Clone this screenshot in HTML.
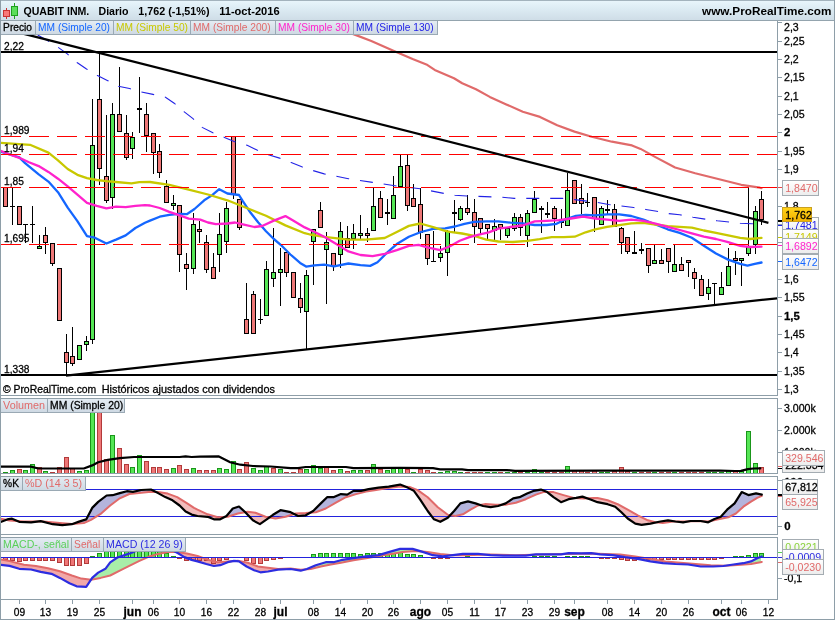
<!DOCTYPE html>
<html lang="es"><head><meta charset="utf-8"><title>QUABIT INM. Diario</title>
<style>html,body{margin:0;padding:0;background:#fff}svg{display:block}</style></head>
<body>
<svg width="835" height="620" viewBox="0 0 835 620" font-family='"Liberation Sans", Arial, Helvetica, sans-serif' font-size="10.6px">
<defs>
<linearGradient id="hdr" x1="0" y1="0" x2="0" y2="1"><stop offset="0" stop-color="#e9f6fc"/><stop offset="0.45" stop-color="#dcebf3"/><stop offset="1" stop-color="#cfdde7"/></linearGradient>
<linearGradient id="lbl" x1="0" y1="0" x2="0" y2="1"><stop offset="0" stop-color="#e4ecf3"/><stop offset="1" stop-color="#cdd8e2"/></linearGradient>
<linearGradient id="box" x1="0" y1="0" x2="0" y2="1"><stop offset="0" stop-color="#ffffff"/><stop offset="1" stop-color="#ececec"/></linearGradient>
<linearGradient id="gold" x1="0" y1="0" x2="0" y2="1"><stop offset="0" stop-color="#ffd21a"/><stop offset="1" stop-color="#f2b200"/></linearGradient>
<clipPath id="cmain"><rect x="1" y="21" width="776" height="374"/></clipPath>
<clipPath id="cvol"><rect x="1" y="399" width="776" height="74"/></clipPath>
<clipPath id="csto"><rect x="1" y="477" width="776" height="57"/></clipPath>
<clipPath id="cmac"><rect x="1" y="538" width="776" height="61"/></clipPath>
</defs>
<rect width="835" height="620" fill="#fff"/>
<rect x="0" y="0" width="835" height="20" fill="url(#hdr)"/>
<rect x="0" y="0" width="835" height="1" fill="#a3b3bd"/>
<rect x="0" y="20" width="835" height="1" fill="#94a4ae"/>
<g clip-path="url(#cmain)">
<g shape-rendering="crispEdges">
<rect x="5" y="187.4" width="1" height="19.3" fill="#000"/><rect x="3" y="187.4" width="5" height="19.3" fill="#000"/><rect x="4" y="188.4" width="3" height="17.3" fill="#ee7777"/>
<rect x="12" y="187.4" width="1" height="37.1" fill="#000"/><rect x="10" y="205.8" width="5" height="1.4" fill="#000"/>
<rect x="19" y="206.3" width="1" height="18.2" fill="#000"/><rect x="17" y="206.3" width="5" height="18.2" fill="#000"/><rect x="18" y="207.3" width="3" height="16.2" fill="#ee7777"/>
<rect x="25" y="224.5" width="1" height="18.0" fill="#000"/><rect x="23" y="224.0" width="5" height="1.4" fill="#000"/>
<rect x="32" y="206.3" width="1" height="36.2" fill="#000"/><rect x="30" y="224.0" width="5" height="1.4" fill="#000"/>
<rect x="39" y="235.2" width="1" height="14.1" fill="#000"/><rect x="37" y="246.0" width="5" height="3.3" fill="#000"/><rect x="38" y="247.0" width="3" height="1.3" fill="#55e655"/>
<rect x="45" y="226.5" width="1" height="27.0" fill="#000"/><rect x="43" y="235.2" width="5" height="7.3" fill="#000"/><rect x="44" y="236.2" width="3" height="5.3" fill="#ee7777"/>
<rect x="52" y="243.4" width="1" height="22.1" fill="#000"/><rect x="50" y="243.4" width="5" height="21.0" fill="#000"/><rect x="51" y="244.4" width="3" height="19.0" fill="#ee7777"/>
<rect x="59" y="268.2" width="1" height="53.1" fill="#000"/><rect x="57" y="268.2" width="5" height="53.1" fill="#000"/><rect x="58" y="269.2" width="3" height="51.1" fill="#ee7777"/>
<rect x="66" y="334.4" width="1" height="40.6" fill="#000"/><rect x="64" y="352.2" width="5" height="10.4" fill="#000"/><rect x="65" y="353.2" width="3" height="8.4" fill="#ee7777"/>
<rect x="72" y="326.9" width="1" height="39.5" fill="#000"/><rect x="70" y="356.3" width="5" height="7.2" fill="#000"/><rect x="71" y="357.3" width="3" height="5.2" fill="#ee7777"/>
<rect x="79" y="345.4" width="1" height="14.9" fill="#000"/><rect x="77" y="345.4" width="5" height="14.9" fill="#000"/><rect x="78" y="346.4" width="3" height="12.9" fill="#55e655"/>
<rect x="86" y="335.9" width="1" height="15.4" fill="#000"/><rect x="84" y="340.5" width="5" height="4.9" fill="#000"/><rect x="85" y="341.5" width="3" height="2.9" fill="#55e655"/>
<rect x="92" y="99.0" width="1" height="244.8" fill="#000"/><rect x="90" y="145.4" width="5" height="194.6" fill="#000"/><rect x="91" y="146.4" width="3" height="192.6" fill="#55e655"/>
<rect x="99" y="52.0" width="1" height="132.9" fill="#000"/><rect x="97" y="99.0" width="5" height="70.4" fill="#000"/><rect x="98" y="100.0" width="3" height="68.4" fill="#ee7777"/>
<rect x="106" y="115.4" width="1" height="87.1" fill="#000"/><rect x="104" y="176.4" width="5" height="24.1" fill="#000"/><rect x="105" y="177.4" width="3" height="22.1" fill="#ee7777"/>
<rect x="112" y="102.9" width="1" height="105.8" fill="#000"/><rect x="110" y="114.1" width="5" height="83.9" fill="#000"/><rect x="111" y="115.1" width="3" height="81.9" fill="#55e655"/>
<rect x="119" y="67.0" width="1" height="65.3" fill="#000"/><rect x="117" y="114.1" width="5" height="18.2" fill="#000"/><rect x="118" y="115.1" width="3" height="16.2" fill="#ee7777"/>
<rect x="126" y="115.0" width="1" height="44.7" fill="#000"/><rect x="124" y="133.4" width="5" height="25.0" fill="#000"/><rect x="125" y="134.4" width="3" height="23.0" fill="#ee7777"/>
<rect x="132" y="131.9" width="1" height="27.4" fill="#000"/><rect x="130" y="137.3" width="5" height="11.9" fill="#000"/><rect x="131" y="138.3" width="3" height="9.9" fill="#55e655"/>
<rect x="139" y="76.8" width="1" height="55.7" fill="#000"/><rect x="137" y="108.2" width="5" height="1.4" fill="#000"/>
<rect x="146" y="102.9" width="1" height="48.6" fill="#000"/><rect x="144" y="114.1" width="5" height="22.0" fill="#000"/><rect x="145" y="115.1" width="3" height="20.0" fill="#ee7777"/>
<rect x="153" y="133.3" width="1" height="40.2" fill="#000"/><rect x="151" y="133.3" width="5" height="20.0" fill="#000"/><rect x="152" y="134.3" width="3" height="18.0" fill="#ee7777"/>
<rect x="159" y="144.2" width="1" height="33.3" fill="#000"/><rect x="157" y="151.3" width="5" height="22.0" fill="#000"/><rect x="158" y="152.3" width="3" height="20.0" fill="#ee7777"/>
<rect x="166" y="180.0" width="1" height="22.6" fill="#000"/><rect x="164" y="185.8" width="5" height="16.8" fill="#000"/><rect x="165" y="186.8" width="3" height="14.8" fill="#ee7777"/>
<rect x="173" y="195.0" width="1" height="14.6" fill="#000"/><rect x="171" y="202.6" width="5" height="3.5" fill="#000"/><rect x="172" y="203.6" width="3" height="1.5" fill="#55e655"/>
<rect x="179" y="205.1" width="1" height="66.8" fill="#000"/><rect x="177" y="205.1" width="5" height="49.4" fill="#000"/><rect x="178" y="206.1" width="3" height="47.4" fill="#ee7777"/>
<rect x="186" y="253.3" width="1" height="36.3" fill="#000"/><rect x="184" y="264.1" width="5" height="4.4" fill="#000"/><rect x="185" y="265.1" width="3" height="2.4" fill="#ee7777"/>
<rect x="193" y="213.0" width="1" height="60.8" fill="#000"/><rect x="191" y="224.3" width="5" height="44.2" fill="#000"/><rect x="192" y="225.3" width="3" height="42.2" fill="#55e655"/>
<rect x="199" y="220.6" width="1" height="22.5" fill="#000"/><rect x="197" y="229.4" width="5" height="3.0" fill="#000"/><rect x="198" y="230.4" width="3" height="1.0" fill="#ee7777"/>
<rect x="206" y="235.1" width="1" height="37.5" fill="#000"/><rect x="204" y="242.4" width="5" height="27.8" fill="#000"/><rect x="205" y="243.4" width="3" height="25.8" fill="#ee7777"/>
<rect x="213" y="253.3" width="1" height="26.1" fill="#000"/><rect x="211" y="267.3" width="5" height="12.1" fill="#000"/><rect x="212" y="268.3" width="3" height="10.1" fill="#ee7777"/>
<rect x="219" y="213.0" width="1" height="58.9" fill="#000"/><rect x="217" y="234.3" width="5" height="20.2" fill="#000"/><rect x="218" y="235.3" width="3" height="18.2" fill="#55e655"/>
<rect x="226" y="202.3" width="1" height="50.5" fill="#000"/><rect x="224" y="208.4" width="5" height="34.0" fill="#000"/><rect x="225" y="209.4" width="3" height="32.0" fill="#55e655"/>
<rect x="233" y="136.4" width="1" height="62.9" fill="#000"/><rect x="231" y="136.4" width="5" height="58.1" fill="#000"/><rect x="232" y="137.4" width="3" height="56.1" fill="#ee7777"/>
<rect x="239" y="199.3" width="1" height="30.2" fill="#000"/><rect x="237" y="199.3" width="5" height="29.1" fill="#000"/><rect x="238" y="200.3" width="3" height="27.1" fill="#ee7777"/>
<rect x="246" y="283.0" width="1" height="51.3" fill="#000"/><rect x="244" y="319.3" width="5" height="15.0" fill="#000"/><rect x="245" y="320.3" width="3" height="13.0" fill="#ee7777"/>
<rect x="253" y="291.3" width="1" height="43.0" fill="#000"/><rect x="251" y="294.4" width="5" height="39.9" fill="#000"/><rect x="252" y="295.4" width="3" height="37.9" fill="#ee7777"/>
<rect x="260" y="298.8" width="1" height="25.1" fill="#000"/><rect x="258" y="318.6" width="5" height="1.4" fill="#000"/>
<rect x="266" y="261.0" width="1" height="55.4" fill="#000"/><rect x="264" y="268.5" width="5" height="47.9" fill="#000"/><rect x="265" y="269.5" width="3" height="45.9" fill="#55e655"/>
<rect x="273" y="228.1" width="1" height="58.6" fill="#000"/><rect x="271" y="272.1" width="5" height="7.3" fill="#000"/><rect x="272" y="273.1" width="3" height="5.3" fill="#55e655"/>
<rect x="280" y="248.4" width="1" height="57.4" fill="#000"/><rect x="278" y="268.5" width="5" height="4.1" fill="#000"/><rect x="279" y="269.5" width="3" height="2.1" fill="#55e655"/>
<rect x="286" y="251.6" width="1" height="25.1" fill="#000"/><rect x="284" y="252.0" width="5" height="21.3" fill="#000"/><rect x="285" y="253.0" width="3" height="19.3" fill="#ee7777"/>
<rect x="293" y="272.1" width="1" height="25.5" fill="#000"/><rect x="291" y="272.1" width="5" height="25.5" fill="#000"/><rect x="292" y="273.1" width="3" height="23.5" fill="#ee7777"/>
<rect x="300" y="282.8" width="1" height="29.8" fill="#000"/><rect x="298" y="297.6" width="5" height="10.6" fill="#000"/><rect x="299" y="298.6" width="3" height="8.6" fill="#ee7777"/>
<rect x="306" y="270.2" width="1" height="79.4" fill="#000"/><rect x="304" y="275.3" width="5" height="36.3" fill="#000"/><rect x="305" y="276.3" width="3" height="34.3" fill="#55e655"/>
<rect x="313" y="228.8" width="1" height="55.8" fill="#000"/><rect x="311" y="228.8" width="5" height="13.6" fill="#000"/><rect x="312" y="229.8" width="3" height="11.6" fill="#55e655"/>
<rect x="320" y="202.2" width="1" height="26.2" fill="#000"/><rect x="318" y="209.5" width="5" height="18.9" fill="#000"/><rect x="319" y="210.5" width="3" height="16.9" fill="#ee7777"/>
<rect x="326" y="232.0" width="1" height="71.8" fill="#000"/><rect x="324" y="242.4" width="5" height="7.7" fill="#000"/><rect x="325" y="243.4" width="3" height="5.7" fill="#55e655"/>
<rect x="333" y="252.6" width="1" height="17.9" fill="#000"/><rect x="331" y="252.6" width="5" height="14.4" fill="#000"/><rect x="332" y="253.6" width="3" height="12.4" fill="#ee7777"/>
<rect x="340" y="222.3" width="1" height="45.4" fill="#000"/><rect x="338" y="230.8" width="5" height="24.6" fill="#000"/><rect x="339" y="231.8" width="3" height="22.6" fill="#55e655"/>
<rect x="347" y="225.9" width="1" height="22.3" fill="#000"/><rect x="345" y="238.0" width="5" height="10.2" fill="#000"/><rect x="346" y="239.0" width="3" height="8.2" fill="#ee7777"/>
<rect x="353" y="224.0" width="1" height="25.4" fill="#000"/><rect x="351" y="233.2" width="5" height="5.6" fill="#000"/><rect x="352" y="234.2" width="3" height="3.6" fill="#55e655"/>
<rect x="360" y="215.0" width="1" height="23.8" fill="#000"/><rect x="358" y="232.5" width="5" height="3.0" fill="#000"/><rect x="359" y="233.5" width="3" height="1.0" fill="#55e655"/>
<rect x="367" y="228.4" width="1" height="14.0" fill="#000"/><rect x="365" y="232.5" width="5" height="3.0" fill="#000"/><rect x="366" y="233.5" width="3" height="1.0" fill="#ee7777"/>
<rect x="373" y="187.7" width="1" height="43.1" fill="#000"/><rect x="371" y="206.1" width="5" height="24.7" fill="#000"/><rect x="372" y="207.1" width="3" height="22.7" fill="#55e655"/>
<rect x="380" y="190.8" width="1" height="26.7" fill="#000"/><rect x="378" y="198.1" width="5" height="19.4" fill="#000"/><rect x="379" y="199.1" width="3" height="17.4" fill="#ee7777"/>
<rect x="387" y="199.3" width="1" height="25.4" fill="#000"/><rect x="385" y="212.1" width="5" height="1.4" fill="#000"/>
<rect x="393" y="176.3" width="1" height="43.1" fill="#000"/><rect x="391" y="195.2" width="5" height="24.2" fill="#000"/><rect x="392" y="196.2" width="3" height="22.2" fill="#55e655"/>
<rect x="400" y="155.0" width="1" height="32.2" fill="#000"/><rect x="398" y="166.1" width="5" height="21.1" fill="#000"/><rect x="399" y="167.1" width="3" height="19.1" fill="#55e655"/>
<rect x="407" y="155.0" width="1" height="55.7" fill="#000"/><rect x="405" y="164.9" width="5" height="41.2" fill="#000"/><rect x="406" y="165.9" width="3" height="39.2" fill="#ee7777"/>
<rect x="413" y="183.6" width="1" height="23.0" fill="#000"/><rect x="411" y="198.1" width="5" height="8.5" fill="#000"/><rect x="412" y="199.1" width="3" height="6.5" fill="#ee7777"/>
<rect x="420" y="187.7" width="1" height="51.1" fill="#000"/><rect x="418" y="204.1" width="5" height="29.1" fill="#000"/><rect x="419" y="205.1" width="3" height="27.1" fill="#ee7777"/>
<rect x="427" y="234.4" width="1" height="30.2" fill="#000"/><rect x="425" y="234.4" width="5" height="24.8" fill="#000"/><rect x="426" y="235.4" width="3" height="22.8" fill="#ee7777"/>
<rect x="433" y="230.8" width="1" height="30.6" fill="#000"/><rect x="431" y="260.9" width="5" height="1.4" fill="#000"/>
<rect x="440" y="245.8" width="1" height="15.7" fill="#000"/><rect x="438" y="253.1" width="5" height="4.4" fill="#000"/><rect x="439" y="254.1" width="3" height="2.4" fill="#55e655"/>
<rect x="447" y="229.6" width="1" height="46.0" fill="#000"/><rect x="445" y="230.8" width="5" height="22.2" fill="#000"/><rect x="446" y="231.8" width="3" height="20.2" fill="#55e655"/>
<rect x="454" y="200.0" width="1" height="31.5" fill="#000"/><rect x="452" y="212.2" width="5" height="1.4" fill="#000"/>
<rect x="460" y="206.2" width="1" height="14.7" fill="#000"/><rect x="458" y="208.1" width="5" height="11.6" fill="#000"/><rect x="459" y="209.1" width="3" height="9.6" fill="#55e655"/>
<rect x="467" y="194.8" width="1" height="20.6" fill="#000"/><rect x="465" y="208.1" width="5" height="4.4" fill="#000"/><rect x="466" y="209.1" width="3" height="2.4" fill="#ee7777"/>
<rect x="474" y="199.1" width="1" height="43.6" fill="#000"/><rect x="472" y="212.2" width="5" height="14.5" fill="#000"/><rect x="473" y="213.2" width="3" height="12.5" fill="#ee7777"/>
<rect x="480" y="217.8" width="1" height="15.7" fill="#000"/><rect x="478" y="217.8" width="5" height="10.9" fill="#000"/><rect x="479" y="218.8" width="3" height="8.9" fill="#ee7777"/>
<rect x="487" y="224.3" width="1" height="15.3" fill="#000"/><rect x="485" y="224.3" width="5" height="4.4" fill="#000"/><rect x="486" y="225.3" width="3" height="2.4" fill="#ee7777"/>
<rect x="494" y="218.5" width="1" height="21.1" fill="#000"/><rect x="492" y="226.3" width="5" height="4.8" fill="#000"/><rect x="493" y="227.3" width="3" height="2.8" fill="#55e655"/>
<rect x="500" y="224.3" width="1" height="15.3" fill="#000"/><rect x="498" y="224.3" width="5" height="3.2" fill="#000"/><rect x="499" y="225.3" width="3" height="1.2" fill="#ee7777"/>
<rect x="507" y="227.0" width="1" height="11.4" fill="#000"/><rect x="505" y="228.2" width="5" height="7.3" fill="#000"/><rect x="506" y="229.2" width="3" height="5.3" fill="#55e655"/>
<rect x="514" y="212.5" width="1" height="18.6" fill="#000"/><rect x="512" y="217.3" width="5" height="11.4" fill="#000"/><rect x="513" y="218.3" width="3" height="9.4" fill="#55e655"/>
<rect x="520" y="214.1" width="1" height="21.8" fill="#000"/><rect x="518" y="217.3" width="5" height="10.2" fill="#000"/><rect x="519" y="218.3" width="3" height="8.2" fill="#ee7777"/>
<rect x="527" y="210.0" width="1" height="36.8" fill="#000"/><rect x="525" y="213.4" width="5" height="22.1" fill="#000"/><rect x="526" y="214.4" width="3" height="20.1" fill="#55e655"/>
<rect x="534" y="191.2" width="1" height="22.2" fill="#000"/><rect x="532" y="199.1" width="5" height="14.3" fill="#000"/><rect x="533" y="200.1" width="3" height="12.3" fill="#55e655"/>
<rect x="541" y="205.7" width="1" height="27.3" fill="#000"/><rect x="539" y="208.3" width="5" height="1.4" fill="#000"/>
<rect x="547" y="202.0" width="1" height="15.8" fill="#000"/><rect x="545" y="213.2" width="5" height="1.4" fill="#000"/>
<rect x="554" y="206.2" width="1" height="24.4" fill="#000"/><rect x="552" y="208.1" width="5" height="10.4" fill="#000"/><rect x="553" y="209.1" width="3" height="8.4" fill="#ee7777"/>
<rect x="561" y="209.3" width="1" height="18.7" fill="#000"/><rect x="559" y="221.4" width="5" height="1.4" fill="#000"/>
<rect x="567" y="172.5" width="1" height="53.0" fill="#000"/><rect x="565" y="190.4" width="5" height="35.1" fill="#000"/><rect x="566" y="191.4" width="3" height="33.1" fill="#55e655"/>
<rect x="574" y="180.3" width="1" height="23.4" fill="#000"/><rect x="572" y="180.3" width="5" height="23.4" fill="#000"/><rect x="573" y="181.3" width="3" height="21.4" fill="#ee7777"/>
<rect x="581" y="183.9" width="1" height="29.8" fill="#000"/><rect x="579" y="198.4" width="5" height="5.3" fill="#000"/><rect x="580" y="199.4" width="3" height="3.3" fill="#ee7777"/>
<rect x="587" y="193.1" width="1" height="13.8" fill="#000"/><rect x="585" y="201.5" width="5" height="1.4" fill="#000"/>
<rect x="594" y="196.5" width="1" height="35.1" fill="#000"/><rect x="592" y="196.5" width="5" height="22.5" fill="#000"/><rect x="593" y="197.5" width="3" height="20.5" fill="#ee7777"/>
<rect x="601" y="205.6" width="1" height="18.9" fill="#000"/><rect x="599" y="208.0" width="5" height="16.5" fill="#000"/><rect x="600" y="209.0" width="3" height="14.5" fill="#55e655"/>
<rect x="607" y="200.2" width="1" height="13.4" fill="#000"/><rect x="605" y="209.1" width="5" height="1.4" fill="#000"/>
<rect x="614" y="203.9" width="1" height="23.0" fill="#000"/><rect x="612" y="208.7" width="5" height="18.2" fill="#000"/><rect x="613" y="209.7" width="3" height="16.2" fill="#ee7777"/>
<rect x="621" y="226.9" width="1" height="26.6" fill="#000"/><rect x="619" y="228.1" width="5" height="14.5" fill="#000"/><rect x="620" y="229.1" width="3" height="12.5" fill="#ee7777"/>
<rect x="627" y="237.3" width="1" height="16.2" fill="#000"/><rect x="625" y="237.3" width="5" height="15.0" fill="#000"/><rect x="626" y="238.3" width="3" height="13.0" fill="#ee7777"/>
<rect x="634" y="230.5" width="1" height="22.3" fill="#000"/><rect x="632" y="252.3" width="5" height="1.4" fill="#000"/>
<rect x="641" y="243.3" width="1" height="10.2" fill="#000"/><rect x="639" y="249.4" width="5" height="1.4" fill="#000"/>
<rect x="648" y="247.5" width="1" height="25.4" fill="#000"/><rect x="646" y="247.5" width="5" height="18.1" fill="#000"/><rect x="647" y="248.5" width="3" height="16.1" fill="#ee7777"/>
<rect x="654" y="245.0" width="1" height="18.9" fill="#000"/><rect x="652" y="260.0" width="5" height="3.9" fill="#000"/><rect x="653" y="261.0" width="3" height="1.9" fill="#55e655"/>
<rect x="661" y="248.7" width="1" height="15.2" fill="#000"/><rect x="659" y="259.6" width="5" height="4.3" fill="#000"/><rect x="660" y="260.6" width="3" height="2.3" fill="#ee7777"/>
<rect x="668" y="248.0" width="1" height="24.9" fill="#000"/><rect x="666" y="248.0" width="5" height="14.0" fill="#000"/><rect x="667" y="249.0" width="3" height="12.0" fill="#ee7777"/>
<rect x="674" y="245.0" width="1" height="27.2" fill="#000"/><rect x="672" y="264.4" width="5" height="7.8" fill="#000"/><rect x="673" y="265.4" width="3" height="5.8" fill="#55e655"/>
<rect x="681" y="257.1" width="1" height="14.1" fill="#000"/><rect x="679" y="264.4" width="5" height="6.8" fill="#000"/><rect x="680" y="265.4" width="3" height="4.8" fill="#ee7777"/>
<rect x="688" y="259.6" width="1" height="16.9" fill="#000"/><rect x="686" y="259.6" width="5" height="3.0" fill="#000"/><rect x="687" y="260.6" width="3" height="1.0" fill="#ee7777"/>
<rect x="694" y="268.0" width="1" height="20.6" fill="#000"/><rect x="692" y="272.4" width="5" height="7.0" fill="#000"/><rect x="693" y="273.4" width="3" height="5.0" fill="#ee7777"/>
<rect x="701" y="275.3" width="1" height="21.1" fill="#000"/><rect x="699" y="279.4" width="5" height="17.0" fill="#000"/><rect x="700" y="280.4" width="3" height="15.0" fill="#ee7777"/>
<rect x="708" y="278.9" width="1" height="20.6" fill="#000"/><rect x="706" y="286.7" width="5" height="6.8" fill="#000"/><rect x="707" y="287.7" width="3" height="4.8" fill="#55e655"/>
<rect x="714" y="283.3" width="1" height="21.0" fill="#000"/><rect x="712" y="282.8" width="5" height="1.4" fill="#000"/>
<rect x="721" y="272.2" width="1" height="22.5" fill="#000"/><rect x="719" y="286.7" width="5" height="8.0" fill="#000"/><rect x="720" y="287.7" width="3" height="6.0" fill="#55e655"/>
<rect x="728" y="248.0" width="1" height="38.2" fill="#000"/><rect x="726" y="265.6" width="5" height="20.6" fill="#000"/><rect x="727" y="266.6" width="3" height="18.6" fill="#55e655"/>
<rect x="735" y="250.6" width="1" height="24.7" fill="#000"/><rect x="733" y="258.4" width="5" height="3.0" fill="#000"/><rect x="734" y="259.4" width="3" height="1.0" fill="#ee7777"/>
<rect x="741" y="257.6" width="1" height="27.9" fill="#000"/><rect x="739" y="257.6" width="5" height="3.2" fill="#000"/><rect x="740" y="258.6" width="3" height="1.2" fill="#55e655"/>
<rect x="748" y="186.9" width="1" height="69.0" fill="#000"/><rect x="746" y="247.0" width="5" height="6.5" fill="#000"/><rect x="747" y="248.0" width="3" height="4.5" fill="#55e655"/>
<rect x="755" y="206.3" width="1" height="47.2" fill="#000"/><rect x="753" y="210.7" width="5" height="33.9" fill="#000"/><rect x="754" y="211.7" width="3" height="31.9" fill="#55e655"/>
<rect x="761" y="190.6" width="1" height="33.9" fill="#000"/><rect x="759" y="198.6" width="5" height="21.8" fill="#000"/><rect x="760" y="199.6" width="3" height="19.8" fill="#ee7777"/>
</g>
<polyline points="0.0,151.6 9.7,154.5 19.3,157.4 25.1,163.2 38.7,174.4 48.4,181.6 58.0,192.2 67.7,207.7 77.4,221.2 87.0,236.1 94.8,237.7 106.4,243.5 116.0,239.6 125.7,235.4 135.4,228.0 145.0,222.8 150.0,220.6 159.7,216.7 169.3,214.8 179.0,213.8 186.8,214.2 194.5,209.0 204.2,200.3 211.9,195.4 219.2,189.2 227.4,193.5 239.0,195.0 242.8,201.2 250.6,212.8 258.3,222.5 266.0,231.2 273.8,239.0 280.7,244.8 290.4,254.5 300.1,262.9 306.1,266.6 314.5,265.4 324.2,264.7 333.9,266.4 348.4,263.5 360.5,265.1 370.2,265.9 377.5,262.2 387.1,252.6 396.8,244.1 408.9,236.8 421.0,232.0 433.1,228.8 445.2,228.4 454.9,226.5 464.5,223.8 474.2,221.9 486.3,221.4 498.4,221.4 510.5,222.6 522.6,223.3 534.7,225.0 546.8,225.0 556.5,223.8 566.2,219.0 575.9,215.8 585.6,214.9 595.2,215.4 607.1,214.3 619.2,214.3 631.3,216.0 643.4,219.6 655.5,224.5 667.6,229.3 679.7,232.9 691.8,237.8 703.9,245.8 716.0,253.5 728.1,259.6 740.2,263.9 747.5,265.6 754.8,263.9 761.5,262.5" fill="none" stroke="#1466ff" stroke-width="2.3" stroke-linejoin="round" stroke-linecap="round" />
<polyline points="0.0,142.9 30.0,144.8 48.4,152.6 58.0,160.3 67.7,169.0 77.4,174.8 87.0,178.1 96.7,180.0 106.4,181.2 116.0,182.0 131.5,183.3 139.3,182.2 150.0,182.0 169.3,184.8 188.7,189.6 208.0,194.5 227.4,200.3 246.7,208.0 266.0,215.7 285.4,225.4 304.7,233.2 310.0,234.5 324.2,236.8 348.4,239.7 365.4,239.7 384.7,238.0 396.8,232.0 408.9,225.9 420.3,223.5 433.1,227.1 445.2,230.8 450.0,231.8 462.1,233.5 474.2,235.9 486.3,239.6 498.4,241.5 512.9,242.0 527.5,240.8 539.6,239.1 551.7,237.1 563.8,237.1 574.7,236.7 585.6,232.3 595.2,229.4 607.1,226.9 619.2,225.2 631.3,223.3 643.4,222.8 655.5,224.5 667.6,226.2 679.7,226.9 691.8,227.6 703.9,230.5 716.0,232.9 728.1,235.4 740.2,237.8 749.9,239.0 761.5,237.8" fill="none" stroke="#c8c800" stroke-width="2.3" stroke-linejoin="round" stroke-linecap="round" />
<polyline points="335.0,27.0 353.4,34.1 371.3,41.0 393.4,50.7 412.6,58.9 426.4,64.4 434.7,69.9 454.0,78.2 462.2,83.2 476.0,89.2 489.8,96.9 506.3,104.4 522.8,111.8 540.0,116.9 557.2,125.3 574.5,131.6 591.7,136.8 611.9,141.7 632.0,145.4 640.6,148.9 655.0,156.9 675.1,167.5 695.2,173.3 718.2,179.0 741.2,184.8 759.9,187.7 761.5,188.2" fill="none" stroke="#e06a6a" stroke-width="2.2" stroke-linejoin="round" stroke-linecap="round" />
<polyline points="0.0,150.6 9.7,154.5 19.3,157.8 29.0,162.2 38.7,166.1 48.4,171.9 58.0,178.7 67.7,186.4 77.4,194.7 87.0,202.9 96.7,205.8 106.4,208.3 116.0,206.7 125.7,207.1 135.4,205.8 145.0,205.2 150.0,205.5 159.7,208.0 169.3,211.9 179.0,215.2 188.7,218.6 200.3,219.6 208.0,222.5 215.8,224.1 227.4,223.5 235.1,222.5 242.8,224.4 254.4,227.0 262.2,226.0 273.8,220.6 285.4,216.1 293.1,220.6 304.7,227.4 312.1,230.8 324.2,236.8 336.3,244.1 348.4,251.4 360.5,255.0 372.6,256.2 384.7,253.8 396.8,250.1 408.9,245.8 418.6,244.8 428.3,247.7 440.4,250.1 450.0,246.3 459.7,240.8 469.4,237.1 479.0,234.7 488.7,232.3 498.4,228.7 510.5,227.0 522.6,225.5 534.7,221.4 546.8,220.9 558.9,220.2 571.0,218.5 583.1,216.6 595.2,218.5 607.1,219.6 619.2,220.8 631.3,219.6 643.4,220.8 655.5,223.7 667.6,226.9 679.7,230.0 691.8,233.4 703.9,236.6 716.0,239.0 728.1,242.1 740.2,245.8 749.9,247.0 761.5,246.7" fill="none" stroke="#ff22cc" stroke-width="2.3" stroke-linejoin="round" stroke-linecap="round" />
<polyline points="37.7,35.0 46.4,39.9 58.0,47.3 67.3,53.9 77.0,62.5 86.5,69.0 97.0,75.3 107.8,80.7 118.4,86.3 129.5,88.5 141.2,92.0 153.0,94.4 165.5,97.2 174.2,103.2 184.3,111.9 193.0,118.6 202.2,127.4 212.9,132.8 224.5,137.4 234.7,141.7 246.7,145.1 257.0,150.0 268.4,154.8 279.6,158.1 291.2,162.6 301.8,166.8 312.1,170.3 324.2,173.9 348.4,178.7 372.6,182.4 396.8,186.0 421.0,188.9 445.2,193.7 454.8,195.3 466.9,196.0 502.0,197.2 514.2,198.4 527.5,198.4 551.7,198.4 562.6,198.4 574.7,199.6 597.7,202.5 608.6,204.5 619.2,205.8 633.7,207.5 645.8,209.5 656.7,211.2 668.8,213.6 679.7,214.8 693.0,217.2 705.1,219.1 717.2,220.8 729.3,222.0 740.2,223.3 752.3,223.7 761.5,224.5" fill="none" stroke="#2222e6" stroke-width="1.1" stroke-dasharray="13 10.94"/>
<line x1="0.7" y1="136.5" x2="777" y2="136.5" stroke="#ff0000" stroke-width="1" stroke-dasharray="20 8" shape-rendering="crispEdges"/>
<line x1="0.7" y1="154.5" x2="777" y2="154.5" stroke="#ff0000" stroke-width="1" stroke-dasharray="20 8" shape-rendering="crispEdges"/>
<line x1="0.7" y1="187.5" x2="777" y2="187.5" stroke="#ff0000" stroke-width="1" stroke-dasharray="20 8" shape-rendering="crispEdges"/>
<line x1="0.7" y1="244.5" x2="777" y2="244.5" stroke="#ff0000" stroke-width="1" stroke-dasharray="20 8" shape-rendering="crispEdges"/>
<rect x="1" y="51" width="776" height="2" fill="#000"/>
<rect x="1" y="374" width="776" height="2" fill="#000"/>
<line x1="22" y1="33.3" x2="768.4" y2="222.8" stroke="#000" stroke-width="2.25"/>
<line x1="66" y1="375.6" x2="778" y2="298.2" stroke="#000" stroke-width="2.25"/>
<text x="4" y="50" font-size="10.2px" fill="#000" stroke="#000" stroke-width="0.28">2,22</text>
<text x="4" y="133.6" font-size="10.2px" fill="#000" stroke="#000" stroke-width="0.28">1,989</text>
<text x="4" y="151.6" font-size="10.2px" fill="#000" stroke="#000" stroke-width="0.28">1,94</text>
<text x="4" y="184.6" font-size="10.2px" fill="#000" stroke="#000" stroke-width="0.28">1,85</text>
<text x="4" y="241.6" font-size="10.2px" fill="#000" stroke="#000" stroke-width="0.28">1,695</text>
<text x="4" y="372.5" font-size="10.2px" fill="#000" stroke="#000" stroke-width="0.28">1,338</text>
<text y="392.9" font-size="10.4px" fill="#000" stroke="#000" stroke-width="0.28"><tspan x="2.9" textLength="93.4" lengthAdjust="spacingAndGlyphs">© ProRealTime.com</tspan><tspan x="101.7" textLength="173.2" lengthAdjust="spacingAndGlyphs">Históricos ajustados con dividendos</tspan></text>
</g>
<g clip-path="url(#cvol)">
<g shape-rendering="crispEdges">
<rect x="3" y="471.8" width="5" height="1.2" fill="#1a961a"/>
<rect x="10" y="470.2" width="5" height="2.8" fill="#1a961a"/>
<rect x="11" y="471.2" width="3" height="1.8" fill="#55e655"/>
<rect x="17" y="468.5" width="5" height="4.5" fill="#b23a3a"/>
<rect x="18" y="469.5" width="3" height="3.5" fill="#ee7777"/>
<rect x="23" y="470.2" width="5" height="2.8" fill="#1a961a"/>
<rect x="24" y="471.2" width="3" height="1.8" fill="#55e655"/>
<rect x="30" y="463.5" width="5" height="9.5" fill="#1a961a"/>
<rect x="31" y="464.5" width="3" height="8.5" fill="#55e655"/>
<rect x="37" y="466.6" width="5" height="6.4" fill="#b23a3a"/>
<rect x="38" y="467.6" width="3" height="5.4" fill="#ee7777"/>
<rect x="43" y="470.9" width="5" height="2.1" fill="#1a961a"/>
<rect x="44" y="471.9" width="3" height="1.1" fill="#55e655"/>
<rect x="50" y="471.8" width="5" height="1.2" fill="#b23a3a"/>
<rect x="57" y="466.6" width="5" height="6.4" fill="#b23a3a"/>
<rect x="58" y="467.6" width="3" height="5.4" fill="#ee7777"/>
<rect x="64" y="456.6" width="5" height="16.4" fill="#b23a3a"/>
<rect x="65" y="457.6" width="3" height="15.4" fill="#ee7777"/>
<rect x="70" y="467.8" width="5" height="5.2" fill="#b23a3a"/>
<rect x="71" y="468.8" width="3" height="4.2" fill="#ee7777"/>
<rect x="77" y="470.9" width="5" height="2.1" fill="#1a961a"/>
<rect x="78" y="471.9" width="3" height="1.1" fill="#55e655"/>
<rect x="84" y="470.2" width="5" height="2.8" fill="#1a961a"/>
<rect x="85" y="471.2" width="3" height="1.8" fill="#55e655"/>
<rect x="90" y="398.0" width="5" height="75.0" fill="#1a961a"/>
<rect x="91" y="399.0" width="3" height="74.0" fill="#55e655"/>
<rect x="97" y="398.0" width="5" height="75.0" fill="#b23a3a"/>
<rect x="98" y="399.0" width="3" height="74.0" fill="#ee7777"/>
<rect x="104" y="458.7" width="5" height="14.3" fill="#b23a3a"/>
<rect x="105" y="459.7" width="3" height="13.3" fill="#ee7777"/>
<rect x="110" y="434.8" width="5" height="38.2" fill="#1a961a"/>
<rect x="111" y="435.8" width="3" height="37.2" fill="#55e655"/>
<rect x="117" y="447.9" width="5" height="25.1" fill="#b23a3a"/>
<rect x="118" y="448.9" width="3" height="24.1" fill="#ee7777"/>
<rect x="124" y="463.5" width="5" height="9.5" fill="#b23a3a"/>
<rect x="125" y="464.5" width="3" height="8.5" fill="#ee7777"/>
<rect x="130" y="467.3" width="5" height="5.7" fill="#1a961a"/>
<rect x="131" y="468.3" width="3" height="4.7" fill="#55e655"/>
<rect x="137" y="455.4" width="5" height="17.6" fill="#1a961a"/>
<rect x="138" y="456.4" width="3" height="16.6" fill="#55e655"/>
<rect x="144" y="461.4" width="5" height="11.6" fill="#b23a3a"/>
<rect x="145" y="462.4" width="3" height="10.6" fill="#ee7777"/>
<rect x="151" y="467.3" width="5" height="5.7" fill="#b23a3a"/>
<rect x="152" y="468.3" width="3" height="4.7" fill="#ee7777"/>
<rect x="157" y="467.3" width="5" height="5.7" fill="#b23a3a"/>
<rect x="158" y="468.3" width="3" height="4.7" fill="#ee7777"/>
<rect x="164" y="469.0" width="5" height="4.0" fill="#b23a3a"/>
<rect x="165" y="470.0" width="3" height="3.0" fill="#ee7777"/>
<rect x="171" y="468.3" width="5" height="4.7" fill="#1a961a"/>
<rect x="172" y="469.3" width="3" height="3.7" fill="#55e655"/>
<rect x="177" y="464.7" width="5" height="8.3" fill="#b23a3a"/>
<rect x="178" y="465.7" width="3" height="7.3" fill="#ee7777"/>
<rect x="184" y="469.0" width="5" height="4.0" fill="#b23a3a"/>
<rect x="185" y="470.0" width="3" height="3.0" fill="#ee7777"/>
<rect x="191" y="468.4" width="5" height="4.6" fill="#1a961a"/>
<rect x="192" y="469.4" width="3" height="3.6" fill="#55e655"/>
<rect x="197" y="470.0" width="5" height="3.0" fill="#b23a3a"/>
<rect x="198" y="471.0" width="3" height="2.0" fill="#ee7777"/>
<rect x="204" y="469.5" width="5" height="3.5" fill="#b23a3a"/>
<rect x="205" y="470.5" width="3" height="2.5" fill="#ee7777"/>
<rect x="211" y="469.5" width="5" height="3.5" fill="#b23a3a"/>
<rect x="212" y="470.5" width="3" height="2.5" fill="#ee7777"/>
<rect x="217" y="467.7" width="5" height="5.3" fill="#1a961a"/>
<rect x="218" y="468.7" width="3" height="4.3" fill="#55e655"/>
<rect x="224" y="468.5" width="5" height="4.5" fill="#1a961a"/>
<rect x="225" y="469.5" width="3" height="3.5" fill="#55e655"/>
<rect x="231" y="461.4" width="5" height="11.6" fill="#1a961a"/>
<rect x="232" y="462.4" width="3" height="10.6" fill="#55e655"/>
<rect x="237" y="468.5" width="5" height="4.5" fill="#b23a3a"/>
<rect x="238" y="469.5" width="3" height="3.5" fill="#ee7777"/>
<rect x="244" y="462.2" width="5" height="10.8" fill="#b23a3a"/>
<rect x="245" y="463.2" width="3" height="9.8" fill="#ee7777"/>
<rect x="251" y="467.7" width="5" height="5.3" fill="#1a961a"/>
<rect x="252" y="468.7" width="3" height="4.3" fill="#55e655"/>
<rect x="258" y="470.2" width="5" height="2.8" fill="#1a961a"/>
<rect x="259" y="471.2" width="3" height="1.8" fill="#55e655"/>
<rect x="264" y="465.7" width="5" height="7.3" fill="#1a961a"/>
<rect x="265" y="466.7" width="3" height="6.3" fill="#55e655"/>
<rect x="271" y="467.7" width="5" height="5.3" fill="#b23a3a"/>
<rect x="272" y="468.7" width="3" height="4.3" fill="#ee7777"/>
<rect x="278" y="468.5" width="5" height="4.5" fill="#1a961a"/>
<rect x="279" y="469.5" width="3" height="3.5" fill="#55e655"/>
<rect x="284" y="471.8" width="5" height="1.2" fill="#b23a3a"/>
<rect x="291" y="471.5" width="5" height="1.5" fill="#b23a3a"/>
<rect x="298" y="469.0" width="5" height="4.0" fill="#b23a3a"/>
<rect x="299" y="470.0" width="3" height="3.0" fill="#ee7777"/>
<rect x="304" y="468.5" width="5" height="4.5" fill="#1a961a"/>
<rect x="305" y="469.5" width="3" height="3.5" fill="#55e655"/>
<rect x="311" y="464.5" width="5" height="8.5" fill="#1a961a"/>
<rect x="312" y="465.5" width="3" height="7.5" fill="#55e655"/>
<rect x="318" y="467.7" width="5" height="5.3" fill="#1a961a"/>
<rect x="319" y="468.7" width="3" height="4.3" fill="#55e655"/>
<rect x="324" y="466.5" width="5" height="6.5" fill="#b23a3a"/>
<rect x="325" y="467.5" width="3" height="5.5" fill="#ee7777"/>
<rect x="331" y="470.2" width="5" height="2.8" fill="#b23a3a"/>
<rect x="332" y="471.2" width="3" height="1.8" fill="#ee7777"/>
<rect x="338" y="468.5" width="5" height="4.5" fill="#1a961a"/>
<rect x="339" y="469.5" width="3" height="3.5" fill="#55e655"/>
<rect x="345" y="471.0" width="5" height="2.0" fill="#b23a3a"/>
<rect x="346" y="472.0" width="3" height="1.0" fill="#ee7777"/>
<rect x="351" y="470.2" width="5" height="2.8" fill="#1a961a"/>
<rect x="352" y="471.2" width="3" height="1.8" fill="#55e655"/>
<rect x="358" y="470.2" width="5" height="2.8" fill="#1a961a"/>
<rect x="359" y="471.2" width="3" height="1.8" fill="#55e655"/>
<rect x="365" y="470.2" width="5" height="2.8" fill="#b23a3a"/>
<rect x="366" y="471.2" width="3" height="1.8" fill="#ee7777"/>
<rect x="371" y="463.5" width="5" height="9.5" fill="#1a961a"/>
<rect x="372" y="464.5" width="3" height="8.5" fill="#55e655"/>
<rect x="378" y="469.0" width="5" height="4.0" fill="#b23a3a"/>
<rect x="379" y="470.0" width="3" height="3.0" fill="#ee7777"/>
<rect x="385" y="470.2" width="5" height="2.8" fill="#1a961a"/>
<rect x="386" y="471.2" width="3" height="1.8" fill="#55e655"/>
<rect x="391" y="467.7" width="5" height="5.3" fill="#1a961a"/>
<rect x="392" y="468.7" width="3" height="4.3" fill="#55e655"/>
<rect x="398" y="466.5" width="5" height="6.5" fill="#1a961a"/>
<rect x="399" y="467.5" width="3" height="5.5" fill="#55e655"/>
<rect x="405" y="469.0" width="5" height="4.0" fill="#b23a3a"/>
<rect x="406" y="470.0" width="3" height="3.0" fill="#ee7777"/>
<rect x="411" y="471.5" width="5" height="1.5" fill="#1a961a"/>
<rect x="418" y="469.0" width="5" height="4.0" fill="#b23a3a"/>
<rect x="419" y="470.0" width="3" height="3.0" fill="#ee7777"/>
<rect x="425" y="470.2" width="5" height="2.8" fill="#b23a3a"/>
<rect x="426" y="471.2" width="3" height="1.8" fill="#ee7777"/>
<rect x="431" y="471.8" width="5" height="1.2" fill="#b23a3a"/>
<rect x="438" y="471.8" width="5" height="1.2" fill="#1a961a"/>
<rect x="445" y="471.0" width="5" height="2.0" fill="#1a961a"/>
<rect x="446" y="472.0" width="3" height="1.0" fill="#55e655"/>
<rect x="452" y="471.0" width="5" height="2.0" fill="#1a961a"/>
<rect x="453" y="472.0" width="3" height="1.0" fill="#55e655"/>
<rect x="458" y="471.8" width="5" height="1.2" fill="#1a961a"/>
<rect x="465" y="471.5" width="5" height="1.5" fill="#b23a3a"/>
<rect x="472" y="471.5" width="5" height="1.5" fill="#b23a3a"/>
<rect x="478" y="471.8" width="5" height="1.2" fill="#b23a3a"/>
<rect x="485" y="471.5" width="5" height="1.5" fill="#1a961a"/>
<rect x="492" y="471.8" width="5" height="1.2" fill="#1a961a"/>
<rect x="498" y="471.8" width="5" height="1.2" fill="#b23a3a"/>
<rect x="505" y="471.8" width="5" height="1.2" fill="#1a961a"/>
<rect x="512" y="471.8" width="5" height="1.2" fill="#1a961a"/>
<rect x="518" y="471.8" width="5" height="1.2" fill="#b23a3a"/>
<rect x="525" y="471.8" width="5" height="1.2" fill="#1a961a"/>
<rect x="532" y="468.5" width="5" height="4.5" fill="#1a961a"/>
<rect x="533" y="469.5" width="3" height="3.5" fill="#55e655"/>
<rect x="539" y="471.8" width="5" height="1.2" fill="#1a961a"/>
<rect x="545" y="471.8" width="5" height="1.2" fill="#b23a3a"/>
<rect x="552" y="471.8" width="5" height="1.2" fill="#b23a3a"/>
<rect x="559" y="471.8" width="5" height="1.2" fill="#b23a3a"/>
<rect x="565" y="465.7" width="5" height="7.3" fill="#1a961a"/>
<rect x="566" y="466.7" width="3" height="6.3" fill="#55e655"/>
<rect x="572" y="470.2" width="5" height="2.8" fill="#b23a3a"/>
<rect x="573" y="471.2" width="3" height="1.8" fill="#ee7777"/>
<rect x="579" y="470.2" width="5" height="2.8" fill="#b23a3a"/>
<rect x="580" y="471.2" width="3" height="1.8" fill="#ee7777"/>
<rect x="585" y="471.8" width="5" height="1.2" fill="#b23a3a"/>
<rect x="592" y="469.5" width="5" height="3.5" fill="#b23a3a"/>
<rect x="593" y="470.5" width="3" height="2.5" fill="#ee7777"/>
<rect x="599" y="471.5" width="5" height="1.5" fill="#1a961a"/>
<rect x="605" y="471.5" width="5" height="1.5" fill="#1a961a"/>
<rect x="612" y="471.0" width="5" height="2.0" fill="#b23a3a"/>
<rect x="613" y="472.0" width="3" height="1.0" fill="#ee7777"/>
<rect x="619" y="466.6" width="5" height="6.4" fill="#b23a3a"/>
<rect x="620" y="467.6" width="3" height="5.4" fill="#ee7777"/>
<rect x="625" y="471.0" width="5" height="2.0" fill="#b23a3a"/>
<rect x="626" y="472.0" width="3" height="1.0" fill="#ee7777"/>
<rect x="632" y="471.6" width="5" height="1.4" fill="#1a961a"/>
<rect x="639" y="471.6" width="5" height="1.4" fill="#b23a3a"/>
<rect x="646" y="471.6" width="5" height="1.4" fill="#b23a3a"/>
<rect x="652" y="471.6" width="5" height="1.4" fill="#1a961a"/>
<rect x="659" y="471.6" width="5" height="1.4" fill="#b23a3a"/>
<rect x="666" y="471.6" width="5" height="1.4" fill="#b23a3a"/>
<rect x="672" y="471.6" width="5" height="1.4" fill="#1a961a"/>
<rect x="679" y="471.6" width="5" height="1.4" fill="#b23a3a"/>
<rect x="686" y="471.6" width="5" height="1.4" fill="#b23a3a"/>
<rect x="692" y="471.6" width="5" height="1.4" fill="#b23a3a"/>
<rect x="699" y="471.6" width="5" height="1.4" fill="#b23a3a"/>
<rect x="706" y="471.6" width="5" height="1.4" fill="#1a961a"/>
<rect x="712" y="471.6" width="5" height="1.4" fill="#1a961a"/>
<rect x="719" y="471.6" width="5" height="1.4" fill="#1a961a"/>
<rect x="726" y="469.5" width="5" height="3.5" fill="#1a961a"/>
<rect x="727" y="470.5" width="3" height="2.5" fill="#55e655"/>
<rect x="733" y="471.0" width="5" height="2.0" fill="#b23a3a"/>
<rect x="734" y="472.0" width="3" height="1.0" fill="#ee7777"/>
<rect x="739" y="471.0" width="5" height="2.0" fill="#1a961a"/>
<rect x="740" y="472.0" width="3" height="1.0" fill="#55e655"/>
<rect x="746" y="431.4" width="5" height="41.6" fill="#1a961a"/>
<rect x="747" y="432.4" width="3" height="40.6" fill="#55e655"/>
<rect x="753" y="462.5" width="5" height="10.5" fill="#1a961a"/>
<rect x="754" y="463.5" width="3" height="9.5" fill="#55e655"/>
<rect x="759" y="466.6" width="5" height="6.4" fill="#b23a3a"/>
<rect x="760" y="467.6" width="3" height="5.4" fill="#ee7777"/>
</g>
<polyline points="0.0,466.6 31.0,466.6 38.3,468.5 83.8,468.5 92.2,465.4 98.2,462.3 107.8,459.9 119.8,458.2 134.1,457.0 179.6,457.0 185.6,456.3 191.6,457.0 200.0,456.6 218.9,456.4 230.2,462.2 240.3,464.7 252.9,466.0 270.5,466.5 290.6,468.2 298.1,468.2 305.7,467.0 345.9,467.0 353.5,468.2 400.0,467.9 433.0,468.2 440.0,469.4 462.0,469.4 468.0,470.1 507.0,470.1 515.0,470.8 600.0,470.7 720.0,470.6 735.0,471.0 741.0,470.9 747.9,469.1 753.6,468.5 760.3,468.4" fill="none" stroke="#000" stroke-width="2.2" stroke-linejoin="round" stroke-linecap="round" />
</g>
<g clip-path="url(#csto)">
<polygon points="0.0,522.3 1.0,521.9 2.0,521.5 3.0,521.1 4.0,520.7 5.0,520.3 6.0,519.9 6.0,519.8 5.0,519.6 4.0,519.4 3.0,519.2 2.0,519.1 1.0,518.9 0.0,518.7" fill="#f2bcbc" fill-opacity="1"/>
<polygon points="6.0,519.9 7.0,519.5 7.0,519.9 6.0,519.8" fill="#b4b4dc" fill-opacity="1"/>
<polygon points="7.0,519.5 8.0,519.3 9.0,519.1 10.0,519.0 11.0,518.8 12.0,518.7 13.0,519.1 14.0,519.6 15.0,520.0 16.0,520.4 17.0,520.9 17.0,521.0 16.0,520.9 15.0,520.9 14.0,520.8 13.0,520.7 12.0,520.6 11.0,520.5 10.0,520.4 9.0,520.3 8.0,520.1 7.0,519.9" fill="#b4b4dc" fill-opacity="1"/>
<polygon points="17.0,520.9 18.0,521.3 18.0,521.1 17.0,521.0" fill="#f2bcbc" fill-opacity="1"/>
<polygon points="18.0,521.3 19.0,521.7 20.0,521.8 21.0,521.9 22.0,521.9 23.0,522.0 24.0,522.0 25.0,522.0 26.0,522.1 27.0,522.1 28.0,522.2 29.0,522.2 30.0,522.3 31.0,522.3 32.0,522.2 33.0,522.1 34.0,521.9 35.0,521.8 36.0,521.7 36.0,521.6 35.0,521.6 34.0,521.6 33.0,521.6 32.0,521.6 31.0,521.6 30.0,521.6 29.0,521.6 28.0,521.6 27.0,521.6 26.0,521.6 25.0,521.6 24.0,521.6 23.0,521.5 22.0,521.4 21.0,521.4 20.0,521.3 19.0,521.2 18.0,521.1" fill="#f2bcbc" fill-opacity="1"/>
<polygon points="36.0,521.7 37.0,521.6 37.0,521.6 36.0,521.6" fill="#f2bcbc" fill-opacity="1"/>
<polygon points="37.0,521.6 38.0,521.4 39.0,521.3 40.0,521.2 41.0,521.2 42.0,521.4 42.0,521.6 41.0,521.6 40.0,521.6 39.0,521.6 38.0,521.6 37.0,521.6" fill="#b4b4dc" fill-opacity="1"/>
<polygon points="42.0,521.4 43.0,521.7 43.0,521.6 42.0,521.6" fill="#b4b4dc" fill-opacity="1"/>
<polygon points="43.0,521.7 44.0,522.0 45.0,522.2 46.0,522.5 47.0,522.7 48.0,523.0 49.0,523.2 50.0,523.5 51.0,523.8 52.0,524.0 53.0,524.2 54.0,524.3 55.0,524.4 56.0,524.5 57.0,524.6 58.0,524.8 59.0,524.9 60.0,525.0 61.0,525.1 62.0,525.2 63.0,525.1 64.0,525.0 65.0,524.9 66.0,524.8 67.0,524.7 68.0,524.6 69.0,524.5 70.0,524.4 71.0,524.3 72.0,524.2 72.0,524.0 71.0,523.9 70.0,523.8 69.0,523.8 68.0,523.7 67.0,523.6 66.0,523.5 65.0,523.4 64.0,523.3 63.0,523.3 62.0,523.2 61.0,523.1 60.0,523.0 59.0,522.9 58.0,522.8 57.0,522.8 56.0,522.7 55.0,522.6 54.0,522.5 53.0,522.4 52.0,522.3 51.0,522.3 50.0,522.2 49.0,522.1 48.0,522.0 47.0,521.9 46.0,521.8 45.0,521.8 44.0,521.7 43.0,521.6" fill="#f2bcbc" fill-opacity="1"/>
<polygon points="72.0,524.2 73.0,523.8 73.0,523.9 72.0,524.0" fill="#f2bcbc" fill-opacity="1"/>
<polygon points="73.0,523.8 74.0,523.4 75.0,523.1 76.0,522.7 77.0,522.3 78.0,522.0 79.0,521.6 80.0,521.3 81.0,521.0 82.0,520.7 83.0,520.4 84.0,520.1 85.0,519.8 86.0,519.5 87.0,517.9 88.0,515.9 89.0,514.0 90.0,512.1 91.0,510.2 92.0,508.3 93.0,507.1 94.0,506.1 95.0,505.1 96.0,504.1 97.0,503.1 98.0,502.1 99.0,501.3 100.0,500.5 101.0,499.8 102.0,499.0 103.0,498.2 104.0,497.5 105.0,496.7 106.0,496.0 107.0,495.5 108.0,495.4 109.0,495.4 110.0,495.3 111.0,495.3 112.0,495.2 113.0,495.1 114.0,494.8 115.0,494.5 116.0,494.2 117.0,493.9 118.0,493.6 119.0,493.3 120.0,493.0 121.0,492.8 122.0,492.5 123.0,492.2 124.0,492.0 125.0,491.7 126.0,491.4 127.0,491.2 128.0,491.3 129.0,491.4 130.0,491.6 131.0,491.7 132.0,491.8 133.0,491.9 134.0,491.7 135.0,491.4 136.0,491.2 137.0,491.0 138.0,490.7 139.0,490.5 140.0,490.3 141.0,490.1 142.0,490.0 143.0,489.9 144.0,489.9 145.0,489.8 146.0,489.8 147.0,489.7 148.0,489.7 149.0,489.6 150.0,489.5 151.0,489.6 152.0,490.1 153.0,490.6 154.0,491.1 155.0,491.6 155.0,491.9 154.0,491.9 153.0,491.9 152.0,491.9 151.0,491.9 150.0,491.9 149.0,491.9 148.0,492.0 147.0,492.1 146.0,492.2 145.0,492.3 144.0,492.5 143.0,492.6 142.0,492.7 141.0,492.8 140.0,493.0 139.0,493.1 138.0,493.2 137.0,493.3 136.0,493.4 135.0,493.5 134.0,493.6 133.0,493.7 132.0,493.7 131.0,493.8 130.0,493.9 129.0,494.1 128.0,494.6 127.0,495.0 126.0,495.5 125.0,495.9 124.0,496.4 123.0,496.9 122.0,497.3 121.0,497.8 120.0,498.2 119.0,498.9 118.0,499.7 117.0,500.4 116.0,501.2 115.0,501.9 114.0,502.6 113.0,503.4 112.0,504.1 111.0,504.9 110.0,505.7 109.0,506.6 108.0,507.4 107.0,508.3 106.0,509.2 105.0,510.1 104.0,510.9 103.0,511.8 102.0,512.7 101.0,513.5 100.0,514.3 99.0,514.9 98.0,515.5 97.0,516.1 96.0,516.8 95.0,517.4 94.0,518.0 93.0,518.6 92.0,519.3 91.0,519.9 90.0,520.3 89.0,520.8 88.0,521.2 87.0,521.6 86.0,522.1 85.0,522.5 84.0,522.9 83.0,523.1 82.0,523.2 81.0,523.2 80.0,523.3 79.0,523.4 78.0,523.5 77.0,523.6 76.0,523.7 75.0,523.7 74.0,523.8 73.0,523.9" fill="#b4b4dc" fill-opacity="1"/>
<polygon points="155.0,491.6 156.0,492.1 156.0,491.9 155.0,491.9" fill="#b4b4dc" fill-opacity="1"/>
<polygon points="156.0,492.1 157.0,492.6 158.0,493.1 159.0,493.6 160.0,494.2 161.0,494.7 162.0,495.3 163.0,495.8 164.0,496.4 165.0,496.9 166.0,497.4 167.0,497.9 168.0,498.3 169.0,498.7 170.0,499.2 171.0,499.6 172.0,500.1 173.0,500.7 174.0,501.4 175.0,502.1 176.0,502.9 177.0,503.6 178.0,504.3 179.0,505.1 180.0,505.9 181.0,506.9 182.0,507.9 183.0,508.9 184.0,509.9 185.0,510.9 186.0,511.7 187.0,512.2 188.0,512.7 189.0,513.3 190.0,513.8 191.0,514.3 192.0,514.7 193.0,514.9 194.0,515.2 195.0,515.4 196.0,515.6 197.0,515.9 198.0,516.0 199.0,516.1 200.0,516.2 201.0,516.3 202.0,516.4 203.0,516.4 204.0,516.5 205.0,516.6 206.0,516.7 207.0,516.8 208.0,517.0 209.0,517.4 210.0,517.8 211.0,518.1 212.0,518.5 213.0,518.9 214.0,519.3 215.0,519.3 216.0,519.3 217.0,519.3 218.0,519.3 219.0,519.3 220.0,519.3 221.0,518.9 222.0,518.4 223.0,517.8 224.0,517.3 224.0,517.0 223.0,517.0 222.0,517.1 221.0,517.1 220.0,517.2 219.0,517.2 218.0,517.3 217.0,517.1 216.0,516.8 215.0,516.5 214.0,516.2 213.0,515.9 212.0,515.6 211.0,515.3 210.0,515.0 209.0,514.7 208.0,514.4 207.0,514.0 206.0,513.6 205.0,513.1 204.0,512.7 203.0,512.2 202.0,511.7 201.0,511.3 200.0,510.8 199.0,510.4 198.0,509.9 197.0,509.4 196.0,508.9 195.0,508.4 194.0,507.9 193.0,507.2 192.0,506.6 191.0,505.9 190.0,505.2 189.0,504.6 188.0,503.9 187.0,503.2 186.0,502.6 185.0,502.0 184.0,501.4 183.0,500.7 182.0,500.1 181.0,499.5 180.0,498.9 179.0,498.2 178.0,497.6 177.0,497.0 176.0,496.7 175.0,496.3 174.0,495.9 173.0,495.6 172.0,495.2 171.0,494.8 170.0,494.4 169.0,494.1 168.0,493.7 167.0,493.5 166.0,493.3 165.0,493.1 164.0,492.9 163.0,492.8 162.0,492.6 161.0,492.4 160.0,492.2 159.0,492.1 158.0,491.9 157.0,491.9 156.0,491.9" fill="#f2bcbc" fill-opacity="1"/>
<polygon points="224.0,517.3 225.0,516.8 225.0,516.9 224.0,517.0" fill="#f2bcbc" fill-opacity="1"/>
<polygon points="225.0,516.8 226.0,516.3 227.0,515.4 228.0,514.2 229.0,513.0 230.0,511.8 231.0,510.6 232.0,509.5 233.0,508.4 234.0,508.1 235.0,507.8 236.0,507.5 237.0,507.1 238.0,506.8 239.0,506.5 240.0,507.4 241.0,508.3 242.0,509.2 243.0,510.1 244.0,511.0 245.0,511.9 245.0,512.2 244.0,512.4 243.0,512.6 242.0,512.7 241.0,512.9 240.0,513.1 239.0,513.3 238.0,513.5 237.0,513.8 236.0,514.1 235.0,514.4 234.0,514.7 233.0,515.1 232.0,515.4 231.0,515.7 230.0,516.0 229.0,516.4 228.0,516.7 227.0,516.8 226.0,516.9 225.0,516.9" fill="#b4b4dc" fill-opacity="1"/>
<polygon points="245.0,511.9 246.0,512.9 246.0,512.0 245.0,512.2" fill="#f2bcbc" fill-opacity="1"/>
<polygon points="246.0,512.9 247.0,514.0 248.0,515.1 249.0,516.1 250.0,517.2 251.0,518.3 252.0,519.3 253.0,520.4 254.0,520.9 255.0,521.4 256.0,522.0 257.0,522.5 258.0,523.1 259.0,523.6 260.0,524.0 261.0,523.3 262.0,522.6 263.0,521.9 264.0,521.2 265.0,520.5 266.0,519.8 267.0,519.1 268.0,518.4 269.0,517.7 269.0,517.4 268.0,517.2 267.0,517.1 266.0,516.9 265.0,516.6 264.0,516.2 263.0,515.8 262.0,515.4 261.0,515.0 260.0,514.6 259.0,514.2 258.0,513.8 257.0,513.3 256.0,512.9 255.0,512.6 254.0,512.5 253.0,512.4 252.0,512.3 251.0,512.1 250.0,512.0 249.0,511.9 248.0,511.7 247.0,511.8 246.0,512.0" fill="#f2bcbc" fill-opacity="1"/>
<polygon points="269.0,517.7 270.0,516.9 270.0,517.6 269.0,517.4" fill="#b4b4dc" fill-opacity="1"/>
<polygon points="270.0,516.9 271.0,516.2 272.0,515.5 273.0,514.8 274.0,514.2 275.0,513.6 276.0,513.0 277.0,512.3 278.0,511.7 279.0,511.1 280.0,510.5 281.0,510.3 282.0,510.5 283.0,510.7 284.0,510.9 285.0,511.1 286.0,511.3 287.0,511.5 288.0,511.7 289.0,511.9 290.0,512.1 291.0,512.4 292.0,512.9 293.0,513.4 294.0,513.9 294.0,514.0 293.0,514.4 292.0,514.7 291.0,515.0 290.0,515.3 289.0,515.7 288.0,516.0 287.0,516.3 286.0,516.7 285.0,516.9 284.0,517.1 283.0,517.2 282.0,517.4 281.0,517.6 280.0,517.7 279.0,517.9 278.0,518.1 277.0,518.2 276.0,518.4 275.0,518.4 274.0,518.2 273.0,518.1 272.0,517.9 271.0,517.7 270.0,517.6" fill="#b4b4dc" fill-opacity="1"/>
<polygon points="294.0,513.9 295.0,514.4 295.0,513.7 294.0,514.0" fill="#f2bcbc" fill-opacity="1"/>
<polygon points="295.0,514.4 296.0,514.9 297.0,515.4 298.0,515.9 299.0,515.9 300.0,515.8 301.0,515.7 302.0,515.6 303.0,515.5 304.0,515.5 305.0,515.4 306.0,515.1 307.0,514.6 308.0,514.0 309.0,513.4 310.0,512.8 310.0,512.7 309.0,512.7 308.0,512.8 307.0,512.9 306.0,513.0 305.0,513.0 304.0,513.1 303.0,513.1 302.0,513.2 301.0,513.2 300.0,513.3 299.0,513.3 298.0,513.4 297.0,513.4 296.0,513.5 295.0,513.7" fill="#f2bcbc" fill-opacity="1"/>
<polygon points="310.0,512.8 311.0,512.3 311.0,512.6 310.0,512.7" fill="#b4b4dc" fill-opacity="1"/>
<polygon points="311.0,512.3 312.0,511.7 313.0,511.1 314.0,510.2 315.0,509.2 316.0,508.2 317.0,507.2 318.0,506.2 319.0,505.2 320.0,504.2 321.0,503.2 322.0,502.2 323.0,501.2 324.0,500.3 325.0,499.3 326.0,498.3 327.0,497.3 328.0,497.2 329.0,497.2 330.0,497.2 331.0,497.2 332.0,497.2 333.0,497.2 334.0,497.0 335.0,496.5 336.0,496.1 337.0,495.7 338.0,495.3 339.0,494.9 340.0,494.5 341.0,494.1 342.0,494.2 343.0,494.3 344.0,494.3 345.0,494.4 346.0,494.5 347.0,494.6 348.0,494.1 349.0,493.5 350.0,493.0 351.0,492.4 352.0,491.8 353.0,491.2 354.0,490.9 355.0,490.9 356.0,490.9 357.0,490.9 358.0,490.9 359.0,490.9 360.0,490.9 361.0,490.9 362.0,490.7 363.0,490.4 364.0,490.2 365.0,490.0 366.0,489.7 367.0,489.5 368.0,489.2 369.0,489.0 370.0,488.9 371.0,488.7 372.0,488.6 373.0,488.4 374.0,488.3 375.0,488.1 376.0,488.0 377.0,487.8 378.0,487.7 379.0,487.6 380.0,487.5 381.0,487.4 382.0,487.3 383.0,487.2 384.0,487.1 385.0,487.0 386.0,486.9 387.0,486.8 388.0,486.7 389.0,486.5 390.0,486.4 391.0,486.2 392.0,486.0 393.0,485.8 394.0,485.7 395.0,485.5 396.0,485.3 397.0,485.1 398.0,485.0 399.0,484.8 400.0,484.6 401.0,485.0 402.0,485.4 403.0,485.8 404.0,486.2 405.0,486.6 405.0,486.8 404.0,486.8 403.0,486.7 402.0,486.7 401.0,486.6 400.0,486.6 399.0,486.7 398.0,486.9 397.0,487.0 396.0,487.1 395.0,487.2 394.0,487.3 393.0,487.5 392.0,487.6 391.0,487.7 390.0,487.8 389.0,488.0 388.0,488.1 387.0,488.2 386.0,488.3 385.0,488.5 384.0,488.7 383.0,488.9 382.0,489.0 381.0,489.2 380.0,489.4 379.0,489.6 378.0,489.8 377.0,489.9 376.0,490.1 375.0,490.3 374.0,490.4 373.0,490.6 372.0,490.7 371.0,490.9 370.0,491.0 369.0,491.2 368.0,491.3 367.0,491.5 366.0,491.6 365.0,491.9 364.0,492.1 363.0,492.4 362.0,492.6 361.0,492.9 360.0,493.1 359.0,493.4 358.0,493.6 357.0,493.9 356.0,494.1 355.0,494.4 354.0,494.7 353.0,495.0 352.0,495.3 351.0,495.6 350.0,495.9 349.0,496.2 348.0,496.6 347.0,496.9 346.0,497.2 345.0,497.7 344.0,498.2 343.0,498.8 342.0,499.3 341.0,499.9 340.0,500.4 339.0,501.0 338.0,501.5 337.0,502.1 336.0,502.6 335.0,503.2 334.0,503.8 333.0,504.4 332.0,504.9 331.0,505.5 330.0,506.1 329.0,506.7 328.0,507.2 327.0,507.8 326.0,508.4 325.0,508.8 324.0,509.2 323.0,509.5 322.0,509.9 321.0,510.3 320.0,510.6 319.0,511.0 318.0,511.4 317.0,511.8 316.0,512.1 315.0,512.3 314.0,512.3 313.0,512.4 312.0,512.5 311.0,512.6" fill="#b4b4dc" fill-opacity="1"/>
<polygon points="405.0,486.6 406.0,487.0 406.0,486.9 405.0,486.8" fill="#b4b4dc" fill-opacity="1"/>
<polygon points="406.0,487.0 407.0,487.4 408.0,487.8 409.0,488.3 410.0,488.9 411.0,489.4 412.0,489.9 413.0,490.4 414.0,491.0 415.0,492.4 416.0,493.8 417.0,495.2 418.0,496.6 419.0,498.0 420.0,499.4 421.0,500.9 422.0,502.4 423.0,503.9 424.0,505.4 425.0,506.9 426.0,508.4 427.0,509.9 428.0,511.4 429.0,512.7 430.0,514.0 431.0,515.3 432.0,516.7 433.0,518.0 434.0,519.3 435.0,519.7 436.0,520.1 437.0,520.5 438.0,520.9 439.0,521.3 440.0,521.7 441.0,521.4 442.0,520.9 443.0,520.4 444.0,519.8 445.0,519.3 446.0,518.8 447.0,518.2 448.0,517.6 449.0,516.5 450.0,515.4 450.0,515.1 449.0,515.0 448.0,514.8 447.0,514.2 446.0,513.4 445.0,512.7 444.0,511.9 443.0,511.2 442.0,510.4 441.0,509.6 440.0,508.9 439.0,508.1 438.0,507.4 437.0,506.4 436.0,505.4 435.0,504.4 434.0,503.4 433.0,502.4 432.0,501.5 431.0,500.5 430.0,499.5 429.0,498.5 428.0,497.5 427.0,496.7 426.0,496.0 425.0,495.3 424.0,494.6 423.0,493.9 422.0,493.2 421.0,492.4 420.0,491.7 419.0,491.0 418.0,490.3 417.0,489.8 416.0,489.4 415.0,489.0 414.0,488.6 413.0,488.2 412.0,487.9 411.0,487.5 410.0,487.1 409.0,487.0 408.0,487.0 407.0,486.9 406.0,486.9" fill="#f2bcbc" fill-opacity="1"/>
<polygon points="450.0,515.4 451.0,514.3 451.0,515.3 450.0,515.1" fill="#b4b4dc" fill-opacity="1"/>
<polygon points="451.0,514.3 452.0,513.3 453.0,512.2 454.0,511.1 455.0,509.9 456.0,508.7 457.0,507.5 458.0,506.3 459.0,505.1 460.0,503.9 461.0,503.2 462.0,503.0 463.0,502.7 464.0,502.5 465.0,502.2 466.0,501.9 467.0,501.7 468.0,501.4 469.0,501.7 470.0,501.9 471.0,502.2 472.0,502.5 473.0,502.7 474.0,503.0 475.0,503.3 476.0,503.6 477.0,503.9 478.0,504.3 479.0,504.6 480.0,504.9 480.0,505.1 479.0,505.3 478.0,505.5 477.0,506.1 476.0,506.6 475.0,507.2 474.0,507.7 473.0,508.3 472.0,508.9 471.0,509.4 470.0,510.0 469.0,510.6 468.0,511.2 467.0,511.8 466.0,512.4 465.0,513.0 464.0,513.6 463.0,514.2 462.0,514.5 461.0,514.7 460.0,515.0 459.0,515.2 458.0,515.4 457.0,515.6 456.0,515.9 455.0,515.9 454.0,515.8 453.0,515.6 452.0,515.5 451.0,515.3" fill="#b4b4dc" fill-opacity="1"/>
<polygon points="480.0,504.9 481.0,505.3 481.0,504.9 480.0,505.1" fill="#f2bcbc" fill-opacity="1"/>
<polygon points="481.0,505.3 482.0,505.6 483.0,506.0 484.0,506.1 485.0,506.3 486.0,506.5 487.0,506.6 488.0,506.8 489.0,506.9 490.0,507.1 491.0,507.1 492.0,507.0 493.0,506.8 494.0,506.7 495.0,506.5 496.0,506.3 497.0,506.2 498.0,506.0 499.0,505.7 500.0,505.4 501.0,505.0 501.0,504.7 500.0,504.7 499.0,504.7 498.0,504.7 497.0,504.7 496.0,504.7 495.0,504.7 494.0,504.6 493.0,504.5 492.0,504.4 491.0,504.3 490.0,504.3 489.0,504.2 488.0,504.1 487.0,504.0 486.0,503.9 485.0,504.0 484.0,504.2 483.0,504.4 482.0,504.7 481.0,504.9" fill="#f2bcbc" fill-opacity="1"/>
<polygon points="501.0,505.0 502.0,504.7 502.0,504.7 501.0,504.7" fill="#f2bcbc" fill-opacity="1"/>
<polygon points="502.0,504.7 503.0,504.3 504.0,504.0 505.0,503.6 506.0,503.2 507.0,502.5 508.0,501.9 509.0,501.2 510.0,500.5 511.0,499.9 512.0,499.2 513.0,498.5 514.0,498.2 515.0,498.1 516.0,497.9 517.0,497.7 518.0,497.5 519.0,497.3 520.0,496.9 521.0,496.4 522.0,495.9 523.0,495.4 524.0,494.9 525.0,494.4 526.0,493.9 527.0,493.4 528.0,493.0 529.0,492.6 530.0,492.2 531.0,491.9 532.0,491.5 533.0,491.1 534.0,490.8 535.0,490.6 536.0,490.4 537.0,490.3 538.0,490.1 539.0,489.9 540.0,489.8 541.0,489.6 542.0,490.0 543.0,490.4 544.0,490.8 545.0,491.2 546.0,491.6 547.0,492.0 547.0,492.1 546.0,492.1 545.0,492.1 544.0,492.1 543.0,492.2 542.0,492.6 541.0,492.9 540.0,493.2 539.0,493.6 538.0,493.9 537.0,494.2 536.0,494.6 535.0,495.0 534.0,495.5 533.0,495.9 532.0,496.4 531.0,496.8 530.0,497.3 529.0,497.7 528.0,498.2 527.0,498.7 526.0,499.1 525.0,499.5 524.0,499.8 523.0,500.2 522.0,500.5 521.0,500.9 520.0,501.2 519.0,501.6 518.0,501.9 517.0,502.3 516.0,502.6 515.0,502.9 514.0,503.1 513.0,503.3 512.0,503.5 511.0,503.7 510.0,503.8 509.0,504.0 508.0,504.2 507.0,504.4 506.0,504.6 505.0,504.7 504.0,504.7 503.0,504.7 502.0,504.7" fill="#b4b4dc" fill-opacity="1"/>
<polygon points="547.0,492.0 548.0,492.7 548.0,492.1 547.0,492.1" fill="#f2bcbc" fill-opacity="1"/>
<polygon points="548.0,492.7 549.0,493.6 550.0,494.4 551.0,495.2 552.0,496.0 553.0,496.8 554.0,497.5 555.0,498.2 556.0,498.9 557.0,499.5 558.0,500.2 559.0,500.9 560.0,501.5 561.0,502.2 562.0,501.8 563.0,501.4 564.0,501.0 565.0,500.6 566.0,500.2 567.0,499.8 568.0,499.4 569.0,499.1 570.0,499.0 571.0,498.8 572.0,498.6 573.0,498.4 574.0,498.3 575.0,498.1 575.0,498.0 574.0,497.9 573.0,497.7 572.0,497.5 571.0,497.2 570.0,496.9 569.0,496.6 568.0,496.3 567.0,496.1 566.0,495.8 565.0,495.5 564.0,495.2 563.0,495.0 562.0,494.7 561.0,494.4 560.0,494.1 559.0,493.8 558.0,493.5 557.0,493.2 556.0,492.9 555.0,492.6 554.0,492.2 553.0,492.1 552.0,492.1 551.0,492.1 550.0,492.1 549.0,492.1 548.0,492.1" fill="#f2bcbc" fill-opacity="1"/>
<polygon points="575.0,498.1 576.0,497.9 576.0,498.0 575.0,498.0" fill="#f2bcbc" fill-opacity="1"/>
<polygon points="576.0,497.9 577.0,497.7 578.0,497.5 579.0,497.3 580.0,497.1 581.0,496.9 582.0,496.7 583.0,496.8 584.0,497.2 585.0,497.5 586.0,497.9 587.0,498.2 587.0,498.2 586.0,498.3 585.0,498.3 584.0,498.4 583.0,498.4 582.0,498.3 581.0,498.3 580.0,498.2 579.0,498.2 578.0,498.1 577.0,498.1 576.0,498.0" fill="#b4b4dc" fill-opacity="1"/>
<polygon points="587.0,498.2 588.0,498.6 588.0,498.2 587.0,498.2" fill="#f2bcbc" fill-opacity="1"/>
<polygon points="588.0,498.6 589.0,498.9 590.0,499.3 591.0,499.6 592.0,500.0 593.0,500.4 594.0,500.8 595.0,501.2 596.0,501.6 597.0,502.0 598.0,502.3 599.0,502.5 600.0,502.7 601.0,502.9 602.0,503.1 603.0,503.3 604.0,503.5 605.0,503.7 606.0,503.9 607.0,504.1 608.0,504.3 609.0,504.7 610.0,505.0 611.0,505.3 612.0,505.6 613.0,506.0 614.0,506.3 615.0,506.6 616.0,507.4 617.0,508.3 618.0,509.2 619.0,510.1 620.0,511.0 621.0,511.8 622.0,512.8 623.0,513.8 624.0,514.8 625.0,515.8 626.0,516.8 627.0,517.8 628.0,518.7 629.0,519.4 630.0,520.0 631.0,520.7 632.0,521.4 633.0,522.1 634.0,522.7 635.0,523.4 636.0,523.7 637.0,523.9 638.0,524.1 639.0,524.3 640.0,524.5 641.0,524.7 642.0,524.7 643.0,524.6 644.0,524.5 645.0,524.3 646.0,524.2 647.0,524.1 648.0,523.9 649.0,523.8 650.0,523.7 651.0,523.5 652.0,523.3 653.0,523.1 654.0,522.8 655.0,522.6 656.0,522.4 656.0,522.4 655.0,522.2 654.0,521.9 653.0,521.7 652.0,521.4 651.0,521.1 650.0,520.9 649.0,520.6 648.0,520.4 647.0,519.9 646.0,519.4 645.0,518.9 644.0,518.4 643.0,517.9 642.0,517.4 641.0,516.9 640.0,516.4 639.0,515.9 638.0,515.4 637.0,514.9 636.0,514.3 635.0,513.7 634.0,513.2 633.0,512.6 632.0,512.1 631.0,511.5 630.0,511.0 629.0,510.4 628.0,509.9 627.0,509.3 626.0,508.8 625.0,508.2 624.0,507.7 623.0,507.1 622.0,506.6 621.0,506.0 620.0,505.5 619.0,504.9 618.0,504.4 617.0,503.9 616.0,503.5 615.0,503.1 614.0,502.7 613.0,502.3 612.0,501.9 611.0,501.5 610.0,501.2 609.0,500.8 608.0,500.4 607.0,500.1 606.0,499.8 605.0,499.6 604.0,499.4 603.0,499.2 602.0,498.9 601.0,498.7 600.0,498.5 599.0,498.2 598.0,498.0 597.0,497.9 596.0,497.9 595.0,497.9 594.0,497.9 593.0,497.9 592.0,498.0 591.0,498.0 590.0,498.1 589.0,498.1 588.0,498.2" fill="#f2bcbc" fill-opacity="1"/>
<polygon points="656.0,522.4 657.0,522.2 657.0,522.5 656.0,522.4" fill="#b4b4dc" fill-opacity="1"/>
<polygon points="657.0,522.2 658.0,522.0 659.0,521.8 660.0,521.6 661.0,521.4 662.0,521.2 663.0,521.1 664.0,520.9 665.0,520.8 666.0,520.6 667.0,520.5 668.0,520.3 669.0,520.5 670.0,520.6 671.0,520.8 672.0,520.9 673.0,521.1 674.0,521.3 675.0,521.4 675.0,521.5 674.0,521.5 673.0,521.5 672.0,521.7 671.0,521.8 670.0,522.0 669.0,522.1 668.0,522.3 667.0,522.5 666.0,522.6 665.0,522.8 664.0,522.9 663.0,523.1 662.0,523.0 661.0,522.9 660.0,522.8 659.0,522.7 658.0,522.6 657.0,522.5" fill="#b4b4dc" fill-opacity="1"/>
<polygon points="675.0,521.4 676.0,521.6 676.0,521.5 675.0,521.5" fill="#b4b4dc" fill-opacity="1"/>
<polygon points="676.0,521.6 677.0,521.7 678.0,521.8 679.0,521.9 680.0,522.0 681.0,522.1 682.0,522.2 683.0,522.3 684.0,522.1 685.0,522.0 686.0,521.8 687.0,521.6 688.0,521.5 688.0,521.4 687.0,521.4 686.0,521.5 685.0,521.5 684.0,521.5 683.0,521.5 682.0,521.5 681.0,521.5 680.0,521.5 679.0,521.5 678.0,521.5 677.0,521.5 676.0,521.5" fill="#f2bcbc" fill-opacity="1"/>
<polygon points="688.0,521.5 689.0,521.3 689.0,521.4 688.0,521.4" fill="#b4b4dc" fill-opacity="1"/>
<polygon points="689.0,521.3 690.0,521.1 691.0,521.0 692.0,521.0 693.0,521.0 694.0,521.0 695.0,521.0 696.0,521.0 697.0,521.0 698.0,521.0 699.0,521.0 700.0,521.0 701.0,521.1 701.0,521.1 700.0,521.1 699.0,521.0 698.0,521.0 697.0,521.0 696.0,521.1 695.0,521.1 694.0,521.2 693.0,521.2 692.0,521.2 691.0,521.3 690.0,521.3 689.0,521.4" fill="#b4b4dc" fill-opacity="1"/>
<polygon points="701.0,521.1 702.0,521.2 702.0,521.2 701.0,521.1" fill="#b4b4dc" fill-opacity="1"/>
<polygon points="702.0,521.2 703.0,521.4 704.0,521.6 705.0,521.7 706.0,521.9 707.0,522.1 708.0,522.3 709.0,521.9 710.0,521.4 710.0,521.1 709.0,521.3 708.0,521.5 707.0,521.4 706.0,521.4 705.0,521.3 704.0,521.3 703.0,521.2 702.0,521.2" fill="#f2bcbc" fill-opacity="1"/>
<polygon points="710.0,521.4 711.0,520.8 711.0,520.9 710.0,521.1" fill="#f2bcbc" fill-opacity="1"/>
<polygon points="711.0,520.8 712.0,520.3 713.0,519.8 714.0,519.3 715.0,518.8 716.0,518.5 717.0,518.1 718.0,517.8 719.0,517.4 720.0,517.1 721.0,516.6 722.0,515.4 723.0,514.3 724.0,513.2 725.0,512.1 726.0,510.9 727.0,509.8 728.0,508.9 729.0,508.1 730.0,507.3 731.0,506.4 732.0,505.6 733.0,504.7 734.0,503.9 735.0,502.8 736.0,501.2 737.0,499.6 738.0,498.0 739.0,496.4 740.0,494.8 741.0,493.2 742.0,492.2 743.0,492.7 744.0,493.1 745.0,493.6 746.0,494.0 747.0,494.5 748.0,494.9 749.0,495.0 750.0,494.7 751.0,494.5 752.0,494.3 753.0,494.1 754.0,493.8 755.0,493.6 756.0,493.4 757.0,493.6 758.0,493.8 759.0,494.0 760.0,494.2 761.0,494.4 761.0,496.2 760.0,496.7 759.0,497.1 758.0,497.6 757.0,498.0 756.0,498.6 755.0,499.2 754.0,499.9 753.0,500.5 752.0,501.1 751.0,501.7 750.0,502.4 749.0,503.0 748.0,503.7 747.0,504.3 746.0,505.0 745.0,505.6 744.0,506.3 743.0,507.1 742.0,508.0 741.0,508.9 740.0,509.8 739.0,510.7 738.0,511.6 737.0,512.5 736.0,513.4 735.0,513.9 734.0,514.4 733.0,514.9 732.0,515.4 731.0,515.9 730.0,516.4 729.0,516.9 728.0,517.4 727.0,517.6 726.0,517.8 725.0,518.0 724.0,518.2 723.0,518.4 722.0,518.6 721.0,518.8 720.0,519.0 719.0,519.2 718.0,519.4 717.0,519.6 716.0,519.8 715.0,520.0 714.0,520.2 713.0,520.5 712.0,520.7 711.0,520.9" fill="#b4b4dc" fill-opacity="1"/>
<rect x="1" y="489" width="776" height="1" fill="#2222dd"/>
<rect x="1" y="516" width="776" height="1" fill="#2222dd"/>
<polyline points="0.0,518.7 9.6,520.4 24.0,521.6 43.1,521.6 59.9,523.0 71.9,524.0 83.8,523.0 91.0,519.9 100.6,513.9 110.2,505.5 119.8,498.3 129.3,494.0 138.9,493.1 148.5,491.9 158.1,491.9 167.7,493.6 177.2,497.1 186.8,503.1 194.0,507.9 197.5,509.7 207.6,514.3 217.7,517.3 227.7,516.8 237.8,513.5 247.8,511.7 255.4,512.7 265.5,516.8 275.5,518.5 285.6,516.8 295.6,513.5 305.7,513.0 315.8,512.2 325.8,508.5 335.9,502.7 345.9,497.2 356.0,494.1 366.1,491.6 376.1,490.1 386.2,488.3 400.1,486.6 410.1,487.1 417.7,490.1 427.7,497.2 437.8,507.2 447.8,514.8 455.4,516.0 462.9,514.3 470.5,509.7 478.0,505.5 485.6,503.9 495.6,504.7 505.7,504.7 515.8,502.7 525.8,499.2 535.9,494.6 543.4,492.1 553.5,492.1 563.5,495.1 573.6,497.9 583.7,498.4 593.7,497.9 597.5,497.9 607.6,500.2 617.7,504.2 627.7,509.7 637.8,515.3 647.8,520.3 655.4,522.3 662.9,523.1 673.0,521.5 685.6,521.5 698.1,521.0 708.2,521.5 718.3,519.3 728.3,517.3 735.9,513.5 743.4,506.7 751.0,501.7 757.2,497.9 761.8,495.9" fill="none" stroke="#e06a6a" stroke-width="2.0" stroke-linejoin="round" stroke-linecap="round" />
<polyline points="0.0,522.3 7.2,519.4 12.0,518.7 19.2,521.8 31.1,522.3 40.7,521.1 52.7,524.2 62.3,525.2 71.9,524.2 79.0,521.6 86.2,519.4 92.2,507.9 98.2,501.9 106.6,495.5 112.6,495.2 119.8,493.1 126.9,491.2 132.9,491.9 141.3,490.0 150.9,489.5 158.1,493.1 165.3,497.1 172.5,500.3 179.6,505.5 185.6,511.5 191.6,514.6 197.5,516.0 207.6,516.8 213.9,519.3 220.2,519.3 226.5,516.0 232.8,508.5 239.0,506.5 245.3,512.2 252.9,520.3 259.9,524.1 266.7,519.3 273.0,514.8 280.5,510.2 290.6,512.2 298.1,516.0 305.7,515.3 313.2,511.0 320.8,503.4 327.1,497.2 333.4,497.2 340.9,494.1 347.2,494.6 353.5,490.9 361.0,490.9 368.6,489.1 378.6,487.6 388.7,486.6 400.1,484.6 407.6,487.6 413.9,490.9 420.2,499.7 427.7,511.0 434.0,519.3 440.3,521.8 447.8,517.8 454.1,511.0 460.4,503.4 468.0,501.4 475.5,503.4 483.1,506.0 490.6,507.2 498.1,506.0 505.7,503.4 513.2,498.4 519.5,497.2 527.1,493.4 533.4,490.9 540.9,489.6 547.2,492.1 553.5,497.2 561.0,502.2 568.6,499.2 576.1,497.9 582.4,496.6 591.2,499.7 597.5,502.2 607.6,504.2 615.2,506.7 621.4,512.2 627.7,518.5 635.3,523.6 641.6,524.8 650.4,523.6 660.4,521.5 668.0,520.3 675.5,521.5 683.1,522.3 690.6,521.0 700.7,521.0 708.2,522.3 714.5,519.0 720.8,516.8 727.1,509.7 734.6,503.4 741.7,492.1 748.4,495.1 756.0,493.4 761.8,494.6" fill="none" stroke="#000" stroke-width="2.2" stroke-linejoin="round" stroke-linecap="round" />
</g>
<g clip-path="url(#cmac)">
<polygon points="0.0,564.7 1.0,564.8 2.0,565.0 3.0,565.1 4.0,565.2 5.0,565.3 6.0,565.5 7.0,565.6 8.0,565.7 9.0,565.8 10.0,566.0 11.0,566.3 12.0,566.6 13.0,566.9 14.0,567.2 15.0,567.5 16.0,567.8 17.0,568.1 18.0,568.4 19.0,568.7 20.0,568.8 21.0,568.9 22.0,569.0 23.0,569.0 24.0,569.1 25.0,569.1 26.0,569.2 27.0,569.3 28.0,569.3 29.0,569.4 30.0,569.4 31.0,569.5 32.0,569.7 33.0,570.0 34.0,570.2 35.0,570.5 36.0,570.7 37.0,571.0 38.0,571.2 39.0,571.5 40.0,571.7 41.0,572.0 42.0,572.1 43.0,572.3 44.0,572.5 45.0,572.7 46.0,572.8 47.0,573.0 48.0,573.2 49.0,573.4 50.0,573.5 51.0,573.7 52.0,574.0 53.0,574.5 54.0,575.0 55.0,575.5 56.0,576.0 57.0,576.5 58.0,577.0 59.0,577.5 60.0,578.0 61.0,578.5 62.0,579.1 63.0,579.6 64.0,580.2 65.0,580.7 66.0,581.3 67.0,581.8 68.0,582.4 69.0,582.9 70.0,583.4 71.0,583.9 72.0,584.3 73.0,584.7 74.0,585.2 75.0,585.6 76.0,586.0 77.0,586.3 78.0,586.4 79.0,586.4 80.0,586.5 81.0,586.5 82.0,586.6 83.0,586.6 84.0,586.7 85.0,586.7 86.0,586.8 87.0,585.6 88.0,584.1 89.0,582.6 90.0,581.2 90.0,579.7 89.0,579.5 88.0,579.4 87.0,579.3 86.0,579.2 85.0,579.0 84.0,578.9 83.0,578.8 82.0,578.7 81.0,578.5 80.0,578.1 79.0,577.8 78.0,577.5 77.0,577.2 76.0,576.8 75.0,576.5 74.0,576.2 73.0,575.9 72.0,575.5 71.0,575.2 70.0,574.8 69.0,574.5 68.0,574.1 67.0,573.7 66.0,573.4 65.0,573.0 64.0,572.7 63.0,572.3 62.0,572.0 61.0,571.6 60.0,571.2 59.0,571.0 58.0,570.7 57.0,570.5 56.0,570.3 55.0,570.0 54.0,569.8 53.0,569.5 52.0,569.3 51.0,569.0 50.0,568.8 49.0,568.6 48.0,568.3 47.0,568.1 46.0,567.9 45.0,567.7 44.0,567.5 43.0,567.3 42.0,567.1 41.0,566.9 40.0,566.7 39.0,566.5 38.0,566.3 37.0,566.1 36.0,565.9 35.0,565.8 34.0,565.7 33.0,565.6 32.0,565.5 31.0,565.4 30.0,565.3 29.0,565.2 28.0,565.1 27.0,565.0 26.0,564.9 25.0,564.8 24.0,564.7 23.0,564.5 22.0,564.2 21.0,564.0 20.0,563.7 19.0,563.5 18.0,563.2 17.0,563.0 16.0,562.7 15.0,562.5 14.0,562.2 13.0,562.0 12.0,561.7 11.0,561.5 10.0,561.2 9.0,561.0 8.0,560.8 7.0,560.6 6.0,560.4 5.0,560.2 4.0,560.0 3.0,559.8 2.0,559.6 1.0,559.4 0.0,559.2" fill="#f2a8a8" fill-opacity="1"/>
<polygon points="90.0,581.2 91.0,579.7 91.0,579.8 90.0,579.7" fill="#f2a8a8" fill-opacity="1"/>
<polygon points="91.0,579.7 92.0,578.2 93.0,577.2 94.0,576.3 95.0,575.4 96.0,574.5 97.0,573.7 98.0,572.8 99.0,572.2 100.0,571.6 101.0,571.1 102.0,570.6 103.0,570.1 104.0,569.5 105.0,569.0 106.0,568.0 107.0,566.6 108.0,565.3 109.0,563.9 110.0,562.6 111.0,561.8 112.0,561.1 113.0,560.4 114.0,559.8 115.0,559.1 116.0,558.4 117.0,557.8 118.0,557.3 119.0,557.0 120.0,556.6 121.0,556.3 122.0,556.0 123.0,555.6 124.0,555.3 125.0,555.0 126.0,554.6 127.0,554.3 128.0,554.0 129.0,553.7 130.0,553.4 131.0,553.0 132.0,552.7 133.0,552.2 134.0,551.7 135.0,551.3 136.0,550.8 137.0,550.4 138.0,549.9 139.0,549.5 140.0,549.0 141.0,548.8 142.0,548.6 143.0,548.4 144.0,548.2 145.0,548.0 146.0,547.8 147.0,547.6 148.0,547.4 149.0,547.2 150.0,547.0 151.0,547.0 152.0,547.0 153.0,547.0 154.0,547.0 155.0,547.0 156.0,547.0 157.0,547.0 158.0,547.0 159.0,547.0 160.0,547.0 161.0,547.2 162.0,547.4 163.0,547.6 164.0,547.8 165.0,548.0 166.0,548.2 167.0,548.4 168.0,548.6 169.0,548.8 170.0,549.0 171.0,549.5 172.0,550.1 173.0,550.6 174.0,551.1 175.0,551.6 175.0,552.0 174.0,552.0 173.0,552.0 172.0,552.0 171.0,552.0 170.0,552.0 169.0,552.0 168.0,552.0 167.0,552.1 166.0,552.3 165.0,552.5 164.0,552.7 163.0,552.9 162.0,553.1 161.0,553.3 160.0,553.5 159.0,553.7 158.0,553.9 157.0,554.2 156.0,554.5 155.0,554.8 154.0,555.1 153.0,555.4 152.0,555.7 151.0,556.0 150.0,556.3 149.0,556.6 148.0,557.0 147.0,557.5 146.0,557.9 145.0,558.4 144.0,558.8 143.0,559.3 142.0,559.7 141.0,560.2 140.0,560.6 139.0,561.1 138.0,561.6 137.0,562.1 136.0,562.6 135.0,563.0 134.0,563.5 133.0,564.0 132.0,564.5 131.0,565.0 130.0,565.5 129.0,566.1 128.0,566.6 127.0,567.1 126.0,567.6 125.0,568.1 124.0,568.6 123.0,569.1 122.0,569.6 121.0,570.1 120.0,570.6 119.0,571.1 118.0,571.6 117.0,572.1 116.0,572.6 115.0,573.1 114.0,573.6 113.0,574.1 112.0,574.6 111.0,575.1 110.0,575.5 109.0,575.8 108.0,576.0 107.0,576.3 106.0,576.5 105.0,576.8 104.0,577.0 103.0,577.3 102.0,577.5 101.0,577.8 100.0,578.0 99.0,578.2 98.0,578.4 97.0,578.6 96.0,578.8 95.0,579.0 94.0,579.2 93.0,579.4 92.0,579.6 91.0,579.8" fill="#a8eea8" fill-opacity="1"/>
<polygon points="175.0,551.6 176.0,552.2 176.0,552.0 175.0,552.0" fill="#a8eea8" fill-opacity="1"/>
<polygon points="176.0,552.2 177.0,552.7 178.0,553.3 179.0,553.9 180.0,554.5 181.0,555.1 182.0,555.7 183.0,556.3 184.0,556.9 185.0,557.3 186.0,557.7 187.0,558.1 188.0,558.5 189.0,558.9 190.0,559.3 191.0,559.7 192.0,560.0 193.0,560.3 194.0,560.5 195.0,560.8 196.0,561.0 197.0,561.3 198.0,561.5 199.0,561.8 200.0,562.1 201.0,562.4 202.0,562.7 203.0,563.0 204.0,563.3 205.0,563.6 206.0,563.9 207.0,564.2 208.0,564.4 209.0,564.7 210.0,565.0 211.0,565.2 212.0,565.5 213.0,565.8 214.0,566.0 215.0,565.9 216.0,565.7 217.0,565.6 218.0,565.5 219.0,565.4 220.0,565.2 221.0,564.9 222.0,564.5 223.0,564.1 224.0,563.7 225.0,563.3 226.0,562.9 227.0,562.5 228.0,562.1 229.0,561.9 230.0,561.7 231.0,561.5 232.0,561.3 233.0,561.1 233.0,561.0 232.0,561.1 231.0,561.2 230.0,561.2 229.0,561.3 228.0,561.4 227.0,561.5 226.0,561.5 225.0,561.6 224.0,561.7 223.0,561.8 222.0,561.9 221.0,561.9 220.0,562.0 219.0,562.1 218.0,562.2 217.0,562.0 216.0,561.8 215.0,561.5 214.0,561.3 213.0,561.0 212.0,560.8 211.0,560.5 210.0,560.3 209.0,560.0 208.0,559.8 207.0,559.5 206.0,559.1 205.0,558.7 204.0,558.3 203.0,558.0 202.0,557.6 201.0,557.2 200.0,556.8 199.0,556.5 198.0,556.1 197.0,555.8 196.0,555.6 195.0,555.3 194.0,555.1 193.0,554.9 192.0,554.7 191.0,554.4 190.0,554.2 189.0,554.0 188.0,553.8 187.0,553.5 186.0,553.4 185.0,553.2 184.0,553.1 183.0,552.9 182.0,552.8 181.0,552.6 180.0,552.4 179.0,552.3 178.0,552.1 177.0,552.0 176.0,552.0" fill="#f2a8a8" fill-opacity="1"/>
<polygon points="233.0,561.1 234.0,560.9 235.0,561.0 236.0,561.1 237.0,561.2 238.0,561.3 239.0,561.4 240.0,562.1 241.0,562.7 242.0,563.4 243.0,564.1 244.0,564.8 245.0,565.4 246.0,566.1 247.0,566.7 248.0,567.2 249.0,567.7 250.0,568.2 251.0,568.7 252.0,569.2 253.0,569.7 254.0,570.2 255.0,570.5 256.0,570.8 257.0,571.2 258.0,571.5 259.0,571.8 260.0,572.2 261.0,572.2 262.0,572.1 263.0,572.0 264.0,571.9 265.0,571.8 266.0,571.7 267.0,571.6 268.0,571.5 269.0,571.3 270.0,571.1 271.0,571.0 272.0,570.8 273.0,570.6 274.0,570.4 275.0,570.2 276.0,570.1 277.0,569.9 278.0,569.7 279.0,569.6 280.0,569.6 281.0,569.5 282.0,569.5 283.0,569.4 284.0,569.4 285.0,569.3 286.0,569.3 287.0,569.2 288.0,569.1 289.0,569.1 290.0,569.0 291.0,569.1 292.0,569.2 293.0,569.4 294.0,569.6 295.0,569.7 296.0,569.9 297.0,570.1 298.0,570.2 299.0,570.4 300.0,570.6 301.0,570.6 302.0,570.3 303.0,570.1 304.0,569.8 305.0,569.5 305.0,569.4 304.0,569.5 303.0,569.5 302.0,569.6 301.0,569.7 300.0,569.6 299.0,569.5 298.0,569.4 297.0,569.3 296.0,569.1 295.0,569.0 294.0,568.9 293.0,568.8 292.0,568.7 291.0,568.5 290.0,568.5 289.0,568.6 288.0,568.6 287.0,568.6 286.0,568.7 285.0,568.7 284.0,568.8 283.0,568.8 282.0,568.8 281.0,568.9 280.0,568.9 279.0,569.0 278.0,569.0 277.0,568.9 276.0,568.7 275.0,568.6 274.0,568.5 273.0,568.4 272.0,568.2 271.0,568.1 270.0,568.0 269.0,567.8 268.0,567.7 267.0,567.6 266.0,567.5 265.0,567.3 264.0,567.2 263.0,567.1 262.0,567.0 261.0,566.9 260.0,566.7 259.0,566.6 258.0,566.5 257.0,566.2 256.0,565.8 255.0,565.4 254.0,565.0 253.0,564.7 252.0,564.3 251.0,563.9 250.0,563.5 249.0,563.2 248.0,562.8 247.0,562.5 246.0,562.3 245.0,562.1 244.0,561.9 243.0,561.7 242.0,561.5 241.0,561.3 240.0,561.1 239.0,560.9 238.0,560.7 237.0,560.8 236.0,560.8 235.0,560.9 234.0,561.0 233.0,561.0" fill="#f2a8a8" fill-opacity="1"/>
<polygon points="305.0,569.5 306.0,569.2 306.0,569.3 305.0,569.4" fill="#f2a8a8" fill-opacity="1"/>
<polygon points="306.0,569.2 307.0,569.0 308.0,568.5 309.0,568.1 310.0,567.7 311.0,567.2 312.0,566.8 313.0,566.4 314.0,566.0 315.0,565.5 316.0,565.1 317.0,564.8 318.0,564.5 319.0,564.2 320.0,563.9 321.0,563.6 322.0,563.3 323.0,563.0 324.0,562.7 325.0,562.4 326.0,562.2 327.0,562.2 328.0,562.2 329.0,562.2 330.0,562.2 331.0,562.2 332.0,562.2 333.0,562.2 334.0,562.0 335.0,561.8 336.0,561.5 337.0,561.2 338.0,561.0 339.0,560.7 340.0,560.4 341.0,560.2 342.0,560.0 343.0,559.9 344.0,559.7 345.0,559.5 346.0,559.4 347.0,559.2 348.0,559.1 349.0,558.9 350.0,558.8 351.0,558.6 352.0,558.4 353.0,558.3 354.0,558.1 355.0,558.0 356.0,557.8 357.0,557.7 358.0,557.6 359.0,557.4 360.0,557.3 361.0,557.1 362.0,557.0 363.0,556.8 364.0,556.7 365.0,556.6 366.0,556.4 367.0,556.3 368.0,556.2 369.0,556.1 370.0,556.0 371.0,555.9 372.0,555.8 373.0,555.7 374.0,555.6 375.0,555.5 376.0,555.4 377.0,555.3 378.0,555.2 379.0,555.0 380.0,554.7 381.0,554.4 382.0,554.1 383.0,553.8 384.0,553.5 385.0,553.2 386.0,552.9 387.0,552.6 388.0,552.3 389.0,552.0 390.0,551.7 391.0,551.5 392.0,551.2 393.0,550.9 394.0,550.6 395.0,550.3 396.0,550.1 397.0,549.8 398.0,549.5 399.0,549.2 400.0,548.9 401.0,548.9 402.0,548.9 403.0,548.9 404.0,548.9 405.0,548.9 406.0,548.9 407.0,548.9 408.0,548.9 409.0,548.9 410.0,548.9 411.0,548.9 412.0,548.9 413.0,549.0 414.0,549.3 415.0,549.6 416.0,549.9 417.0,550.2 418.0,550.5 419.0,550.8 420.0,551.1 421.0,551.4 421.0,551.5 420.0,551.4 419.0,551.3 418.0,551.2 417.0,551.1 416.0,551.0 415.0,550.9 414.0,551.0 413.0,551.1 412.0,551.2 411.0,551.3 410.0,551.4 409.0,551.5 408.0,551.6 407.0,551.7 406.0,551.8 405.0,551.9 404.0,552.0 403.0,552.1 402.0,552.2 401.0,552.4 400.0,552.5 399.0,552.7 398.0,552.8 397.0,553.0 396.0,553.1 395.0,553.3 394.0,553.5 393.0,553.6 392.0,553.8 391.0,553.9 390.0,554.1 389.0,554.2 388.0,554.4 387.0,554.6 386.0,554.7 385.0,554.9 384.0,555.0 383.0,555.2 382.0,555.4 381.0,555.5 380.0,555.7 379.0,555.8 378.0,556.0 377.0,556.2 376.0,556.4 375.0,556.6 374.0,556.7 373.0,556.9 372.0,557.1 371.0,557.3 370.0,557.5 369.0,557.7 368.0,557.9 367.0,558.0 366.0,558.2 365.0,558.4 364.0,558.5 363.0,558.7 362.0,558.9 361.0,559.0 360.0,559.2 359.0,559.3 358.0,559.5 357.0,559.6 356.0,559.8 355.0,560.0 354.0,560.1 353.0,560.3 352.0,560.5 351.0,560.7 350.0,560.9 349.0,561.1 348.0,561.3 347.0,561.5 346.0,561.7 345.0,561.9 344.0,562.1 343.0,562.3 342.0,562.5 341.0,562.7 340.0,562.9 339.0,563.0 338.0,563.2 337.0,563.4 336.0,563.6 335.0,563.8 334.0,563.9 333.0,564.1 332.0,564.3 331.0,564.5 330.0,564.7 329.0,564.9 328.0,565.1 327.0,565.3 326.0,565.5 325.0,565.7 324.0,565.9 323.0,566.1 322.0,566.3 321.0,566.5 320.0,566.7 319.0,566.9 318.0,567.2 317.0,567.4 316.0,567.7 315.0,567.9 314.0,568.2 313.0,568.4 312.0,568.7 311.0,568.9 310.0,569.0 309.0,569.1 308.0,569.2 307.0,569.3 306.0,569.3" fill="#a8eea8" fill-opacity="1"/>
<polygon points="421.0,551.4 422.0,551.7 422.0,551.6 421.0,551.5" fill="#f2a8a8" fill-opacity="1"/>
<polygon points="422.0,551.7 423.0,552.0 424.0,552.3 425.0,552.7 426.0,553.0 427.0,553.3 428.0,553.6 429.0,554.0 430.0,554.3 431.0,554.6 432.0,554.9 433.0,555.2 434.0,555.3 435.0,555.5 436.0,555.6 437.0,555.7 438.0,555.8 439.0,555.9 440.0,556.1 441.0,556.2 442.0,556.3 443.0,556.4 444.0,556.3 445.0,556.1 446.0,556.0 447.0,555.9 448.0,555.8 449.0,555.7 450.0,555.5 451.0,555.4 452.0,555.3 452.0,555.1 451.0,555.0 450.0,554.9 449.0,554.8 448.0,554.7 447.0,554.6 446.0,554.5 445.0,554.4 444.0,554.3 443.0,554.2 442.0,554.1 441.0,554.0 440.0,553.9 439.0,553.7 438.0,553.6 437.0,553.4 436.0,553.3 435.0,553.1 434.0,553.0 433.0,552.9 432.0,552.7 431.0,552.6 430.0,552.4 429.0,552.3 428.0,552.1 427.0,552.0 426.0,551.9 425.0,551.8 424.0,551.7 423.0,551.6 422.0,551.6" fill="#f2a8a8" fill-opacity="1"/>
<polygon points="452.0,555.3 453.0,555.2 453.0,555.2 452.0,555.1" fill="#f2a8a8" fill-opacity="1"/>
<polygon points="453.0,555.2 454.0,555.1 455.0,554.9 456.0,554.8 457.0,554.7 458.0,554.5 459.0,554.4 460.0,554.3 461.0,554.1 462.0,554.0 463.0,553.9 464.0,553.9 465.0,553.9 466.0,553.9 467.0,553.9 468.0,553.9 469.0,553.9 470.0,553.9 471.0,553.9 472.0,553.9 473.0,553.9 474.0,553.9 475.0,553.9 476.0,553.9 477.0,553.9 478.0,553.9 479.0,554.0 480.0,554.1 481.0,554.2 482.0,554.3 483.0,554.4 484.0,554.5 485.0,554.6 485.0,554.7 484.0,554.8 483.0,554.8 482.0,554.8 481.0,554.8 480.0,554.9 479.0,554.9 478.0,554.9 477.0,554.9 476.0,554.9 475.0,555.0 474.0,555.0 473.0,555.0 472.0,555.0 471.0,555.1 470.0,555.1 469.0,555.1 468.0,555.1 467.0,555.2 466.0,555.2 465.0,555.2 464.0,555.2 463.0,555.2 462.0,555.2 461.0,555.2 460.0,555.2 459.0,555.2 458.0,555.2 457.0,555.2 456.0,555.2 455.0,555.2 454.0,555.2 453.0,555.2" fill="#a8eea8" fill-opacity="1"/>
<polygon points="485.0,554.6 486.0,554.7 486.0,554.7 485.0,554.7" fill="#a8eea8" fill-opacity="1"/>
<polygon points="486.0,554.7 487.0,554.8 488.0,554.9 489.0,555.0 490.0,555.1 491.0,555.2 492.0,555.3 493.0,555.3 494.0,555.3 495.0,555.4 496.0,555.4 497.0,555.5 498.0,555.5 499.0,555.5 500.0,555.6 501.0,555.6 502.0,555.7 503.0,555.7 504.0,555.7 505.0,555.7 506.0,555.7 507.0,555.7 508.0,555.7 509.0,555.7 510.0,555.7 511.0,555.7 512.0,555.7 513.0,555.7 514.0,555.7 515.0,555.7 516.0,555.7 517.0,555.7 518.0,555.7 519.0,555.7 520.0,555.7 521.0,555.7 522.0,555.7 523.0,555.7 524.0,555.7 525.0,555.7 526.0,555.7 527.0,555.5 528.0,555.4 529.0,555.3 530.0,555.2 531.0,555.0 532.0,554.9 532.0,554.8 531.0,554.8 530.0,554.9 529.0,554.9 528.0,554.9 527.0,554.9 526.0,555.0 525.0,555.0 524.0,555.0 523.0,555.0 522.0,555.1 521.0,555.1 520.0,555.1 519.0,555.1 518.0,555.1 517.0,555.2 516.0,555.2 515.0,555.2 514.0,555.2 513.0,555.1 512.0,555.1 511.0,555.1 510.0,555.1 509.0,555.0 508.0,555.0 507.0,555.0 506.0,555.0 505.0,554.9 504.0,554.9 503.0,554.9 502.0,554.9 501.0,554.8 500.0,554.8 499.0,554.8 498.0,554.8 497.0,554.8 496.0,554.7 495.0,554.7 494.0,554.7 493.0,554.7 492.0,554.6 491.0,554.6 490.0,554.6 489.0,554.6 488.0,554.7 487.0,554.7 486.0,554.7" fill="#f2a8a8" fill-opacity="1"/>
<polygon points="532.0,554.9 533.0,554.8 533.0,554.8 532.0,554.8" fill="#f2a8a8" fill-opacity="1"/>
<polygon points="533.0,554.8 534.0,554.6 535.0,554.5 536.0,554.4 537.0,554.4 538.0,554.4 539.0,554.4 540.0,554.4 541.0,554.4 542.0,554.4 543.0,554.4 544.0,554.4 545.0,554.4 546.0,554.4 547.0,554.4 548.0,554.4 549.0,554.4 550.0,554.4 550.0,554.4 549.0,554.4 548.0,554.5 547.0,554.5 546.0,554.5 545.0,554.5 544.0,554.5 543.0,554.6 542.0,554.6 541.0,554.6 540.0,554.6 539.0,554.6 538.0,554.7 537.0,554.7 536.0,554.7 535.0,554.7 534.0,554.8 533.0,554.8" fill="#a8eea8" fill-opacity="1"/>
<polygon points="550.0,554.4 551.0,554.4 551.0,554.4 550.0,554.4" fill="#a8eea8" fill-opacity="1"/>
<polygon points="551.0,554.4 552.0,554.4 553.0,554.4 554.0,554.4 555.0,554.4 556.0,554.4 557.0,554.4 558.0,554.4 559.0,554.4 560.0,554.4 561.0,554.4 562.0,554.2 562.0,554.2 561.0,554.2 560.0,554.2 559.0,554.2 558.0,554.3 557.0,554.3 556.0,554.3 555.0,554.3 554.0,554.3 553.0,554.4 552.0,554.4 551.0,554.4" fill="#f2a8a8" fill-opacity="1"/>
<polygon points="562.0,554.2 563.0,554.1 563.0,554.2 562.0,554.2" fill="#a8eea8" fill-opacity="1"/>
<polygon points="563.0,554.1 564.0,553.9 565.0,553.7 566.0,553.5 567.0,553.4 568.0,553.2 569.0,553.1 570.0,553.1 571.0,553.2 572.0,553.2 573.0,553.2 574.0,553.2 575.0,553.3 576.0,553.3 577.0,553.3 578.0,553.3 579.0,553.3 580.0,553.4 581.0,553.4 582.0,553.4 583.0,553.3 584.0,553.3 585.0,553.3 586.0,553.3 587.0,553.2 588.0,553.2 589.0,553.2 590.0,553.1 591.0,553.1 592.0,553.2 593.0,553.4 593.0,553.5 592.0,553.4 591.0,553.4 590.0,553.4 589.0,553.5 588.0,553.5 587.0,553.5 586.0,553.5 585.0,553.6 584.0,553.6 583.0,553.6 582.0,553.7 581.0,553.7 580.0,553.7 579.0,553.7 578.0,553.8 577.0,553.8 576.0,553.8 575.0,553.9 574.0,553.9 573.0,553.9 572.0,553.9 571.0,554.0 570.0,554.0 569.0,554.0 568.0,554.0 567.0,554.1 566.0,554.1 565.0,554.1 564.0,554.1 563.0,554.2" fill="#a8eea8" fill-opacity="1"/>
<polygon points="593.0,553.4 594.0,553.5 594.0,553.5 593.0,553.5" fill="#a8eea8" fill-opacity="1"/>
<polygon points="594.0,553.5 595.0,553.7 596.0,553.8 597.0,553.9 598.0,554.1 599.0,554.2 600.0,554.4 601.0,554.5 602.0,554.5 603.0,554.6 604.0,554.6 605.0,554.7 606.0,554.8 607.0,554.8 608.0,554.9 609.0,555.0 610.0,555.0 611.0,555.1 612.0,555.2 613.0,555.3 614.0,555.4 615.0,555.6 616.0,555.7 617.0,555.9 618.0,556.1 619.0,556.2 620.0,556.4 621.0,556.5 622.0,556.7 623.0,556.9 624.0,557.0 625.0,557.2 626.0,557.3 627.0,557.4 628.0,557.6 629.0,557.7 630.0,557.8 631.0,558.0 632.0,558.1 633.0,558.3 634.0,558.4 635.0,558.5 636.0,558.7 637.0,558.8 638.0,558.9 639.0,559.1 640.0,559.3 641.0,559.5 642.0,559.7 643.0,559.9 644.0,560.1 645.0,560.3 646.0,560.5 647.0,560.7 648.0,560.9 649.0,561.1 650.0,561.3 651.0,561.5 652.0,561.6 653.0,561.8 654.0,561.9 655.0,562.1 656.0,562.2 657.0,562.4 658.0,562.5 659.0,562.6 660.0,562.8 661.0,562.9 662.0,563.1 663.0,563.2 664.0,563.3 665.0,563.3 666.0,563.4 667.0,563.5 668.0,563.5 669.0,563.6 670.0,563.7 671.0,563.7 672.0,563.8 673.0,563.8 674.0,563.9 675.0,564.0 676.0,564.0 677.0,564.1 678.0,564.1 679.0,564.1 680.0,564.2 681.0,564.2 682.0,564.3 683.0,564.3 684.0,564.3 685.0,564.4 686.0,564.4 687.0,564.5 688.0,564.5 689.0,564.6 690.0,564.8 691.0,565.0 692.0,565.1 693.0,565.3 694.0,565.4 695.0,565.6 696.0,565.8 697.0,565.9 698.0,566.1 699.0,566.2 700.0,566.4 701.0,566.5 702.0,566.5 703.0,566.5 704.0,566.5 705.0,566.5 706.0,566.5 707.0,566.5 708.0,566.5 709.0,566.5 710.0,566.5 711.0,566.5 712.0,566.5 713.0,566.5 714.0,566.5 715.0,566.4 716.0,566.4 717.0,566.3 718.0,566.3 719.0,566.2 720.0,566.2 721.0,566.1 722.0,566.1 723.0,566.0 724.0,565.9 725.0,565.7 725.0,565.7 724.0,565.6 723.0,565.6 722.0,565.6 721.0,565.5 720.0,565.5 719.0,565.5 718.0,565.4 717.0,565.4 716.0,565.4 715.0,565.3 714.0,565.3 713.0,565.3 712.0,565.2 711.0,565.2 710.0,565.1 709.0,565.1 708.0,565.0 707.0,564.9 706.0,564.8 705.0,564.7 704.0,564.7 703.0,564.6 702.0,564.5 701.0,564.4 700.0,564.3 699.0,564.3 698.0,564.2 697.0,564.1 696.0,564.0 695.0,563.9 694.0,563.9 693.0,563.8 692.0,563.7 691.0,563.6 690.0,563.5 689.0,563.4 688.0,563.3 687.0,563.3 686.0,563.2 685.0,563.1 684.0,563.0 683.0,562.9 682.0,562.8 681.0,562.7 680.0,562.7 679.0,562.6 678.0,562.5 677.0,562.4 676.0,562.3 675.0,562.2 674.0,562.1 673.0,562.0 672.0,562.0 671.0,561.9 670.0,561.8 669.0,561.7 668.0,561.6 667.0,561.5 666.0,561.4 665.0,561.3 664.0,561.2 663.0,561.0 662.0,560.8 661.0,560.7 660.0,560.5 659.0,560.3 658.0,560.2 657.0,560.0 656.0,559.8 655.0,559.7 654.0,559.5 653.0,559.3 652.0,559.2 651.0,559.0 650.0,558.8 649.0,558.7 648.0,558.5 647.0,558.3 646.0,558.2 645.0,558.0 644.0,557.8 643.0,557.7 642.0,557.5 641.0,557.3 640.0,557.2 639.0,557.0 638.0,556.8 637.0,556.7 636.0,556.5 635.0,556.4 634.0,556.2 633.0,556.1 632.0,556.0 631.0,555.9 630.0,555.8 629.0,555.6 628.0,555.5 627.0,555.4 626.0,555.3 625.0,555.2 624.0,555.1 623.0,554.9 622.0,554.8 621.0,554.7 620.0,554.6 619.0,554.5 618.0,554.5 617.0,554.5 616.0,554.4 615.0,554.4 614.0,554.3 613.0,554.3 612.0,554.2 611.0,554.2 610.0,554.1 609.0,554.1 608.0,554.0 607.0,554.0 606.0,553.9 605.0,553.9 604.0,553.9 603.0,553.8 602.0,553.8 601.0,553.8 600.0,553.7 599.0,553.7 598.0,553.6 597.0,553.6 596.0,553.6 595.0,553.5 594.0,553.5" fill="#f2a8a8" fill-opacity="1"/>
<polygon points="725.0,565.7 726.0,565.6 726.0,565.7 725.0,565.7" fill="#a8eea8" fill-opacity="1"/>
<polygon points="726.0,565.6 727.0,565.5 728.0,565.3 729.0,565.2 730.0,565.0 731.0,564.9 732.0,564.7 733.0,564.6 734.0,564.4 735.0,564.3 736.0,564.2 737.0,564.0 738.0,563.9 739.0,563.8 740.0,563.6 741.0,563.5 742.0,563.4 743.0,563.3 744.0,563.1 745.0,562.8 746.0,562.6 747.0,562.3 748.0,562.1 749.0,561.9 750.0,561.6 751.0,561.4 752.0,560.9 753.0,560.4 754.0,559.9 755.0,559.3 756.0,558.8 757.0,558.3 758.0,557.9 759.0,557.5 760.0,557.1 761.0,556.7 761.0,562.1 760.0,562.2 759.0,562.4 758.0,562.6 757.0,562.8 756.0,563.0 755.0,563.2 754.0,563.4 753.0,563.6 752.0,563.8 751.0,564.0 750.0,564.1 749.0,564.1 748.0,564.2 747.0,564.3 746.0,564.3 745.0,564.4 744.0,564.5 743.0,564.6 742.0,564.6 741.0,564.7 740.0,564.8 739.0,564.8 738.0,564.9 737.0,565.0 736.0,565.0 735.0,565.1 734.0,565.2 733.0,565.2 732.0,565.3 731.0,565.4 730.0,565.4 729.0,565.5 728.0,565.6 727.0,565.6 726.0,565.7" fill="#a8eea8" fill-opacity="1"/>
<g shape-rendering="crispEdges">
<rect x="3" y="557.2" width="5" height="3.2" fill="#b23a3a"/>
<rect x="4" y="557.2" width="3" height="2.2" fill="#ee7777"/>
<rect x="10" y="557.2" width="5" height="3.9" fill="#b23a3a"/>
<rect x="11" y="557.2" width="3" height="2.9" fill="#ee7777"/>
<rect x="17" y="557.2" width="5" height="5.1" fill="#b23a3a"/>
<rect x="18" y="557.2" width="3" height="4.1" fill="#ee7777"/>
<rect x="23" y="557.2" width="5" height="3.9" fill="#b23a3a"/>
<rect x="24" y="557.2" width="3" height="2.9" fill="#ee7777"/>
<rect x="30" y="557.2" width="5" height="3.9" fill="#b23a3a"/>
<rect x="31" y="557.2" width="3" height="2.9" fill="#ee7777"/>
<rect x="37" y="557.2" width="5" height="3.9" fill="#b23a3a"/>
<rect x="38" y="557.2" width="3" height="2.9" fill="#ee7777"/>
<rect x="43" y="557.2" width="5" height="3.9" fill="#b23a3a"/>
<rect x="44" y="557.2" width="3" height="2.9" fill="#ee7777"/>
<rect x="50" y="557.2" width="5" height="3.9" fill="#b23a3a"/>
<rect x="51" y="557.2" width="3" height="2.9" fill="#ee7777"/>
<rect x="57" y="557.2" width="5" height="5.9" fill="#b23a3a"/>
<rect x="58" y="557.2" width="3" height="4.9" fill="#ee7777"/>
<rect x="64" y="557.2" width="5" height="9.2" fill="#b23a3a"/>
<rect x="65" y="557.2" width="3" height="8.2" fill="#ee7777"/>
<rect x="70" y="557.2" width="5" height="9.2" fill="#b23a3a"/>
<rect x="71" y="557.2" width="3" height="8.2" fill="#ee7777"/>
<rect x="77" y="557.2" width="5" height="9.2" fill="#b23a3a"/>
<rect x="78" y="557.2" width="3" height="8.2" fill="#ee7777"/>
<rect x="84" y="557.2" width="5" height="7.1" fill="#b23a3a"/>
<rect x="85" y="557.2" width="3" height="6.1" fill="#ee7777"/>
<rect x="90" y="555.9" width="5" height="1.3" fill="#1a961a"/>
<rect x="97" y="553.0" width="5" height="4.2" fill="#1a961a"/>
<rect x="98" y="554.0" width="3" height="3.2" fill="#55e655"/>
<rect x="104" y="550.0" width="5" height="7.2" fill="#1a961a"/>
<rect x="105" y="551.0" width="3" height="6.2" fill="#55e655"/>
<rect x="110" y="548.0" width="5" height="9.2" fill="#1a961a"/>
<rect x="111" y="549.0" width="3" height="8.2" fill="#55e655"/>
<rect x="117" y="547.0" width="5" height="10.2" fill="#1a961a"/>
<rect x="118" y="548.0" width="3" height="9.2" fill="#55e655"/>
<rect x="124" y="546.0" width="5" height="11.2" fill="#1a961a"/>
<rect x="125" y="547.0" width="3" height="10.2" fill="#55e655"/>
<rect x="130" y="546.0" width="5" height="11.2" fill="#1a961a"/>
<rect x="131" y="547.0" width="3" height="10.2" fill="#55e655"/>
<rect x="137" y="546.0" width="5" height="11.2" fill="#1a961a"/>
<rect x="138" y="547.0" width="3" height="10.2" fill="#55e655"/>
<rect x="144" y="547.0" width="5" height="10.2" fill="#1a961a"/>
<rect x="145" y="548.0" width="3" height="9.2" fill="#55e655"/>
<rect x="151" y="548.0" width="5" height="9.2" fill="#1a961a"/>
<rect x="152" y="549.0" width="3" height="8.2" fill="#55e655"/>
<rect x="157" y="550.0" width="5" height="7.2" fill="#1a961a"/>
<rect x="158" y="551.0" width="3" height="6.2" fill="#55e655"/>
<rect x="164" y="553.0" width="5" height="4.2" fill="#1a961a"/>
<rect x="165" y="554.0" width="3" height="3.2" fill="#55e655"/>
<rect x="171" y="555.9" width="5" height="1.3" fill="#1a961a"/>
<rect x="177" y="557.2" width="5" height="2.0" fill="#b23a3a"/>
<rect x="178" y="557.2" width="3" height="1.0" fill="#ee7777"/>
<rect x="184" y="557.2" width="5" height="3.9" fill="#b23a3a"/>
<rect x="185" y="557.2" width="3" height="2.9" fill="#ee7777"/>
<rect x="191" y="557.2" width="5" height="3.5" fill="#b23a3a"/>
<rect x="192" y="557.2" width="3" height="2.5" fill="#ee7777"/>
<rect x="197" y="557.2" width="5" height="3.5" fill="#b23a3a"/>
<rect x="198" y="557.2" width="3" height="2.5" fill="#ee7777"/>
<rect x="204" y="557.2" width="5" height="4.2" fill="#b23a3a"/>
<rect x="205" y="557.2" width="3" height="3.2" fill="#ee7777"/>
<rect x="211" y="557.2" width="5" height="6.3" fill="#b23a3a"/>
<rect x="212" y="557.2" width="3" height="5.3" fill="#ee7777"/>
<rect x="217" y="557.2" width="5" height="3.5" fill="#b23a3a"/>
<rect x="218" y="557.2" width="3" height="2.5" fill="#ee7777"/>
<rect x="224" y="557.2" width="5" height="2.5" fill="#b23a3a"/>
<rect x="225" y="557.2" width="3" height="1.5" fill="#ee7777"/>
<rect x="237" y="557.2" width="5" height="0.8" fill="#b23a3a"/>
<rect x="244" y="557.2" width="5" height="4.2" fill="#b23a3a"/>
<rect x="245" y="557.2" width="3" height="3.2" fill="#ee7777"/>
<rect x="251" y="557.2" width="5" height="6.3" fill="#b23a3a"/>
<rect x="252" y="557.2" width="3" height="5.3" fill="#ee7777"/>
<rect x="258" y="557.2" width="5" height="6.3" fill="#b23a3a"/>
<rect x="259" y="557.2" width="3" height="5.3" fill="#ee7777"/>
<rect x="264" y="557.2" width="5" height="4.2" fill="#b23a3a"/>
<rect x="265" y="557.2" width="3" height="3.2" fill="#ee7777"/>
<rect x="271" y="557.2" width="5" height="3.0" fill="#b23a3a"/>
<rect x="272" y="557.2" width="3" height="2.0" fill="#ee7777"/>
<rect x="278" y="557.2" width="5" height="2.0" fill="#b23a3a"/>
<rect x="279" y="557.2" width="3" height="1.0" fill="#ee7777"/>
<rect x="284" y="557.2" width="5" height="1.2" fill="#b23a3a"/>
<rect x="291" y="557.2" width="5" height="1.0" fill="#b23a3a"/>
<rect x="298" y="557.2" width="5" height="1.0" fill="#b23a3a"/>
<rect x="311" y="554.4" width="5" height="2.8" fill="#1a961a"/>
<rect x="312" y="555.4" width="3" height="1.8" fill="#55e655"/>
<rect x="318" y="553.4" width="5" height="3.8" fill="#1a961a"/>
<rect x="319" y="554.4" width="3" height="2.8" fill="#55e655"/>
<rect x="324" y="553.4" width="5" height="3.8" fill="#1a961a"/>
<rect x="325" y="554.4" width="3" height="2.8" fill="#55e655"/>
<rect x="331" y="553.4" width="5" height="3.8" fill="#1a961a"/>
<rect x="332" y="554.4" width="3" height="2.8" fill="#55e655"/>
<rect x="338" y="553.4" width="5" height="3.8" fill="#1a961a"/>
<rect x="339" y="554.4" width="3" height="2.8" fill="#55e655"/>
<rect x="345" y="553.4" width="5" height="3.8" fill="#1a961a"/>
<rect x="346" y="554.4" width="3" height="2.8" fill="#55e655"/>
<rect x="351" y="553.4" width="5" height="3.8" fill="#1a961a"/>
<rect x="352" y="554.4" width="3" height="2.8" fill="#55e655"/>
<rect x="358" y="553.9" width="5" height="3.3" fill="#1a961a"/>
<rect x="359" y="554.9" width="3" height="2.3" fill="#55e655"/>
<rect x="365" y="553.4" width="5" height="3.8" fill="#1a961a"/>
<rect x="366" y="554.4" width="3" height="2.8" fill="#55e655"/>
<rect x="371" y="552.6" width="5" height="4.6" fill="#1a961a"/>
<rect x="372" y="553.6" width="3" height="3.6" fill="#55e655"/>
<rect x="378" y="552.6" width="5" height="4.6" fill="#1a961a"/>
<rect x="379" y="553.6" width="3" height="3.6" fill="#55e655"/>
<rect x="385" y="554.4" width="5" height="2.8" fill="#1a961a"/>
<rect x="386" y="555.4" width="3" height="1.8" fill="#55e655"/>
<rect x="391" y="552.6" width="5" height="4.6" fill="#1a961a"/>
<rect x="392" y="553.6" width="3" height="3.6" fill="#55e655"/>
<rect x="398" y="551.9" width="5" height="5.3" fill="#1a961a"/>
<rect x="399" y="552.9" width="3" height="4.3" fill="#55e655"/>
<rect x="405" y="553.9" width="5" height="3.3" fill="#1a961a"/>
<rect x="406" y="554.9" width="3" height="2.3" fill="#55e655"/>
<rect x="411" y="554.4" width="5" height="2.8" fill="#1a961a"/>
<rect x="412" y="555.4" width="3" height="1.8" fill="#55e655"/>
<rect x="418" y="555.2" width="5" height="2.0" fill="#1a961a"/>
<rect x="419" y="556.2" width="3" height="1.0" fill="#55e655"/>
<rect x="431" y="557.2" width="5" height="2.2" fill="#b23a3a"/>
<rect x="432" y="557.2" width="3" height="1.2" fill="#ee7777"/>
<rect x="438" y="557.2" width="5" height="2.2" fill="#b23a3a"/>
<rect x="439" y="557.2" width="3" height="1.2" fill="#ee7777"/>
<rect x="445" y="557.2" width="5" height="2.2" fill="#b23a3a"/>
<rect x="446" y="557.2" width="3" height="1.2" fill="#ee7777"/>
<rect x="452" y="557.2" width="5" height="1.0" fill="#b23a3a"/>
<rect x="465" y="555.7" width="5" height="1.5" fill="#1a961a"/>
<rect x="532" y="555.9" width="5" height="1.3" fill="#1a961a"/>
<rect x="539" y="555.9" width="5" height="1.3" fill="#1a961a"/>
<rect x="545" y="555.9" width="5" height="1.3" fill="#1a961a"/>
<rect x="552" y="555.9" width="5" height="1.3" fill="#1a961a"/>
<rect x="565" y="555.9" width="5" height="1.3" fill="#1a961a"/>
<rect x="572" y="555.9" width="5" height="1.3" fill="#1a961a"/>
<rect x="579" y="555.9" width="5" height="1.3" fill="#1a961a"/>
<rect x="585" y="555.9" width="5" height="1.3" fill="#1a961a"/>
<rect x="599" y="557.2" width="5" height="1.4" fill="#b23a3a"/>
<rect x="605" y="557.2" width="5" height="1.4" fill="#b23a3a"/>
<rect x="612" y="557.2" width="5" height="2.0" fill="#b23a3a"/>
<rect x="613" y="557.2" width="3" height="1.0" fill="#ee7777"/>
<rect x="619" y="557.2" width="5" height="3.0" fill="#b23a3a"/>
<rect x="620" y="557.2" width="3" height="2.0" fill="#ee7777"/>
<rect x="625" y="557.2" width="5" height="3.8" fill="#b23a3a"/>
<rect x="626" y="557.2" width="3" height="2.8" fill="#ee7777"/>
<rect x="632" y="557.2" width="5" height="3.8" fill="#b23a3a"/>
<rect x="633" y="557.2" width="3" height="2.8" fill="#ee7777"/>
<rect x="639" y="557.2" width="5" height="3.0" fill="#b23a3a"/>
<rect x="640" y="557.2" width="3" height="2.0" fill="#ee7777"/>
<rect x="646" y="557.2" width="5" height="3.0" fill="#b23a3a"/>
<rect x="647" y="557.2" width="3" height="2.0" fill="#ee7777"/>
<rect x="652" y="557.2" width="5" height="3.0" fill="#b23a3a"/>
<rect x="653" y="557.2" width="3" height="2.0" fill="#ee7777"/>
<rect x="659" y="557.2" width="5" height="3.0" fill="#b23a3a"/>
<rect x="660" y="557.2" width="3" height="2.0" fill="#ee7777"/>
<rect x="666" y="557.2" width="5" height="3.0" fill="#b23a3a"/>
<rect x="667" y="557.2" width="3" height="2.0" fill="#ee7777"/>
<rect x="672" y="557.2" width="5" height="3.0" fill="#b23a3a"/>
<rect x="673" y="557.2" width="3" height="2.0" fill="#ee7777"/>
<rect x="679" y="557.2" width="5" height="3.0" fill="#b23a3a"/>
<rect x="680" y="557.2" width="3" height="2.0" fill="#ee7777"/>
<rect x="686" y="557.2" width="5" height="3.0" fill="#b23a3a"/>
<rect x="687" y="557.2" width="3" height="2.0" fill="#ee7777"/>
<rect x="692" y="557.2" width="5" height="3.0" fill="#b23a3a"/>
<rect x="693" y="557.2" width="3" height="2.0" fill="#ee7777"/>
<rect x="699" y="557.2" width="5" height="2.8" fill="#b23a3a"/>
<rect x="700" y="557.2" width="3" height="1.8" fill="#ee7777"/>
<rect x="706" y="557.2" width="5" height="2.8" fill="#b23a3a"/>
<rect x="707" y="557.2" width="3" height="1.8" fill="#ee7777"/>
<rect x="712" y="557.2" width="5" height="2.6" fill="#b23a3a"/>
<rect x="713" y="557.2" width="3" height="1.6" fill="#ee7777"/>
<rect x="719" y="557.2" width="5" height="1.8" fill="#b23a3a"/>
<rect x="720" y="557.2" width="3" height="0.8" fill="#ee7777"/>
<rect x="733" y="555.9" width="5" height="1.3" fill="#1a961a"/>
<rect x="739" y="555.9" width="5" height="1.3" fill="#1a961a"/>
<rect x="746" y="555.2" width="5" height="2.0" fill="#1a961a"/>
<rect x="747" y="556.2" width="3" height="1.0" fill="#55e655"/>
<rect x="753" y="553.4" width="5" height="3.8" fill="#1a961a"/>
<rect x="754" y="554.4" width="3" height="2.8" fill="#55e655"/>
<rect x="759" y="552.6" width="5" height="4.6" fill="#1a961a"/>
<rect x="760" y="553.6" width="3" height="3.6" fill="#55e655"/>
</g>
<polyline points="0.0,559.2 9.6,561.1 24.0,564.7 35.9,565.9 47.9,568.3 59.9,571.2 71.9,575.5 81.4,578.6 91.0,579.8 100.6,577.9 110.2,575.5 119.8,570.7 129.3,565.9 138.9,561.1 148.5,556.8 158.1,553.9 167.7,552.0 177.2,552.0 186.8,553.5 197.5,555.9 207.6,559.7 217.7,562.2 227.7,561.4 237.8,560.7 247.8,562.7 257.9,566.5 268.0,567.7 278.0,569.0 290.6,568.5 300.7,569.7 310.7,569.0 320.8,566.5 330.8,564.5 340.9,562.7 353.5,560.2 366.1,558.2 378.6,555.9 391.2,553.9 402.6,552.1 415.2,550.9 427.7,552.1 440.3,553.9 452.9,555.2 465.5,555.2 490.6,554.6 515.8,555.2 540.9,554.6 566.1,554.1 591.2,553.4 605.1,553.9 620.2,554.6 635.3,556.4 650.4,558.9 665.5,561.4 680.5,562.7 695.6,564.0 710.7,565.2 725.8,565.7 740.9,564.7 751.0,564.0 761.8,561.9" fill="none" stroke="#e06a6a" stroke-width="2.0" stroke-linejoin="round" stroke-linecap="round" />
<polyline points="0.0,564.7 9.6,565.9 19.2,568.8 31.1,569.5 40.7,571.9 51.5,573.8 59.9,577.9 69.5,583.2 76.6,586.3 86.2,586.8 92.2,577.9 98.2,572.6 105.4,568.8 110.2,562.3 117.4,557.5 124.6,555.1 131.7,552.8 140.0,549.0 150.0,547.0 160.0,547.0 170.0,549.0 177.2,552.8 184.4,557.1 191.6,559.9 197.5,561.4 206.3,564.0 213.9,566.0 220.2,565.2 227.7,562.2 234.0,560.9 239.0,561.4 246.6,566.5 254.1,570.2 260.4,572.3 268.0,571.5 278.0,569.7 290.6,569.0 300.7,570.7 306.9,569.0 315.8,565.2 325.8,562.2 333.4,562.2 340.9,560.2 353.5,558.2 366.1,556.4 378.6,555.1 388.7,552.1 400.1,548.9 412.6,548.9 422.7,551.9 432.8,555.2 442.8,556.4 452.9,555.2 462.9,553.9 478.0,553.9 490.6,555.2 503.2,555.7 525.8,555.7 535.9,554.4 561.0,554.4 568.6,553.1 581.1,553.4 591.2,553.1 600.1,554.4 612.6,555.2 625.2,557.2 637.8,558.9 650.4,561.4 662.9,563.2 675.5,564.0 688.1,564.5 700.7,566.5 713.2,566.5 723.3,566.0 733.4,564.5 743.4,563.2 751.0,561.4 757.2,558.2 761.8,556.4" fill="none" stroke="#2d2de0" stroke-width="2.2" stroke-linejoin="round" stroke-linecap="round" />
<rect x="1" y="557" width="776" height="1" fill="#2222dd"/>
</g>
<rect x="0" y="395" width="778" height="1" fill="#8e9ea8"/>
<rect x="0" y="398" width="778" height="1" fill="#8e9ea8"/>
<rect x="0" y="473" width="778" height="1" fill="#8e9ea8"/>
<rect x="0" y="476" width="778" height="1" fill="#8e9ea8"/>
<rect x="0" y="534" width="778" height="1" fill="#8e9ea8"/>
<rect x="0" y="537" width="778" height="1" fill="#8e9ea8"/>
<rect x="0" y="599" width="778" height="1" fill="#8e9ea8"/>
<rect x="777" y="21" width="1" height="375" fill="#8e9ea8"/>
<rect x="777" y="398" width="1" height="76" fill="#8e9ea8"/>
<rect x="777" y="476" width="1" height="59" fill="#8e9ea8"/>
<rect x="777" y="537" width="1" height="63" fill="#8e9ea8"/>
<rect x="0" y="0" width="1" height="620" fill="#8e9ea8"/>
<rect x="834" y="0" width="1" height="620" fill="#8e9ea8"/>
<rect x="0" y="619" width="835" height="1" fill="#8e9ea8"/>
<rect x="1" y="21" width="35" height="14" fill="url(#lbl)"/>
<rect x="35" y="21" width="1" height="14" fill="#9aa9b4"/>
<rect x="1" y="34" width="35" height="1" fill="#9aa9b4"/>
<text x="3.1" y="30.7" fill="#000" font-size="10.2px" stroke="#000" stroke-width="0.28">Precio</text>
<rect x="36" y="21" width="78" height="14" fill="url(#lbl)"/>
<rect x="113" y="21" width="1" height="14" fill="#9aa9b4"/>
<rect x="36" y="34" width="78" height="1" fill="#9aa9b4"/>
<text x="38.1" y="30.7" fill="#1466ff" font-size="10.2px">MM (Simple 20)</text>
<rect x="114" y="21" width="77" height="14" fill="url(#lbl)"/>
<rect x="190" y="21" width="1" height="14" fill="#9aa9b4"/>
<rect x="114" y="34" width="77" height="1" fill="#9aa9b4"/>
<text x="116.1" y="30.7" fill="#c8c800" font-size="10.2px">MM (Simple 50)</text>
<rect x="191" y="21" width="85" height="14" fill="url(#lbl)"/>
<rect x="275" y="21" width="1" height="14" fill="#9aa9b4"/>
<rect x="191" y="34" width="85" height="1" fill="#9aa9b4"/>
<text x="193.1" y="30.7" fill="#e06a6a" font-size="10.2px">MM (Simple 200)</text>
<rect x="276" y="21" width="78" height="14" fill="url(#lbl)"/>
<rect x="353" y="21" width="1" height="14" fill="#9aa9b4"/>
<rect x="276" y="34" width="78" height="1" fill="#9aa9b4"/>
<text x="278.1" y="30.7" fill="#ff22cc" font-size="10.2px">MM (Simple 30)</text>
<rect x="354" y="21" width="84" height="14" fill="url(#lbl)"/>
<rect x="437" y="21" width="1" height="14" fill="#9aa9b4"/>
<rect x="354" y="34" width="84" height="1" fill="#9aa9b4"/>
<text x="356.1" y="30.7" fill="#2222e6" font-size="10.2px">MM (Simple 130)</text>
<rect x="1" y="399" width="47" height="14" fill="url(#lbl)"/>
<rect x="47" y="399" width="1" height="14" fill="#9aa9b4"/>
<rect x="1" y="412" width="47" height="1" fill="#9aa9b4"/>
<text x="3.1" y="408.7" fill="#e06a6a" font-size="10.2px" textLength="42" lengthAdjust="spacingAndGlyphs">Volumen</text>
<rect x="48" y="399" width="77" height="14" fill="url(#lbl)"/>
<rect x="124" y="399" width="1" height="14" fill="#9aa9b4"/>
<rect x="48" y="412" width="77" height="1" fill="#9aa9b4"/>
<text x="50.1" y="408.7" fill="#000" font-size="10.2px" textLength="73" lengthAdjust="spacingAndGlyphs" stroke="#000" stroke-width="0.28">MM (Simple 20)</text>
<rect x="1" y="477" width="22" height="14" fill="url(#lbl)"/>
<rect x="22" y="477" width="1" height="14" fill="#9aa9b4"/>
<rect x="1" y="490" width="22" height="1" fill="#9aa9b4"/>
<text x="3.1" y="486.7" fill="#000" font-size="10.2px" stroke="#000" stroke-width="0.28">%K</text>
<rect x="23" y="477" width="63" height="14" fill="url(#lbl)"/>
<rect x="85" y="477" width="1" height="14" fill="#9aa9b4"/>
<rect x="23" y="490" width="63" height="1" fill="#9aa9b4"/>
<text x="25.1" y="486.7" fill="#e06a6a" font-size="10.2px" textLength="57" lengthAdjust="spacingAndGlyphs">%D (14 3 5)</text>
<rect x="1" y="538" width="71" height="14" fill="url(#lbl)"/>
<rect x="71" y="538" width="1" height="14" fill="#9aa9b4"/>
<rect x="1" y="551" width="71" height="1" fill="#9aa9b4"/>
<text x="3.1" y="547.7" fill="#5ad05a" font-size="10.2px" textLength="66" lengthAdjust="spacingAndGlyphs">MACD-, señal</text>
<rect x="72" y="538" width="32" height="14" fill="url(#lbl)"/>
<rect x="103" y="538" width="1" height="14" fill="#9aa9b4"/>
<rect x="72" y="551" width="32" height="1" fill="#9aa9b4"/>
<text x="74.1" y="547.7" fill="#e06a6a" font-size="10.2px">Señal</text>
<rect x="104" y="538" width="82" height="14" fill="url(#lbl)"/>
<rect x="185" y="538" width="1" height="14" fill="#9aa9b4"/>
<rect x="104" y="551" width="82" height="1" fill="#9aa9b4"/>
<text x="106.1" y="547.7" fill="#2d2de0" font-size="10.2px" textLength="76.6" lengthAdjust="spacingAndGlyphs">MACD (12 26 9)</text>
<g shape-rendering="crispEdges"><rect x="6" y="8" width="1" height="11" fill="#c83232"/><rect x="3" y="10" width="7" height="7" fill="#c83232"/><rect x="4" y="11" width="5" height="5" fill="#f87878"/>
<rect x="14" y="3" width="1" height="16" fill="#1ea01e"/><rect x="11" y="6" width="7" height="10" fill="#1ea01e"/><rect x="12" y="7" width="5" height="8" fill="#5ade5a"/></g>
<g font-weight="bold" font-size="10.6px" fill="#000">
<text x="23.4" y="14.6">QUABIT INM.</text><text x="98.5" y="14.6">Diario</text><text x="138.3" y="14.6" textLength="71.2" lengthAdjust="spacingAndGlyphs">1,762 (-1,51%)</text><text x="219.2" y="14.6" textLength="60.4" lengthAdjust="spacingAndGlyphs">11-oct-2016</text>
<text x="702.1" y="14.6" font-size="11px" textLength="129.3" lengthAdjust="spacingAndGlyphs">www.ProRealTime.com</text>
</g>
<rect x="778" y="22" width="4" height="1" fill="#8e9ea8" shape-rendering="crispEdges"/>
<text x="784" y="30.6" fill="#000" stroke="#000" stroke-width="0.28">2,3</text>
<rect x="778" y="41" width="4" height="1" fill="#8e9ea8" shape-rendering="crispEdges"/>
<text x="784" y="45.0" fill="#000" stroke="#000" stroke-width="0.28">2,25</text>
<rect x="778" y="59" width="4" height="1" fill="#8e9ea8" shape-rendering="crispEdges"/>
<text x="784" y="63.0" fill="#000" stroke="#000" stroke-width="0.28">2,2</text>
<rect x="778" y="77" width="4" height="1" fill="#8e9ea8" shape-rendering="crispEdges"/>
<text x="784" y="81.0" fill="#000" stroke="#000" stroke-width="0.28">2,15</text>
<rect x="778" y="96" width="4" height="1" fill="#8e9ea8" shape-rendering="crispEdges"/>
<text x="784" y="100.0" fill="#000" stroke="#000" stroke-width="0.28">2,1</text>
<rect x="778" y="114" width="4" height="1" fill="#8e9ea8" shape-rendering="crispEdges"/>
<text x="784" y="118.0" fill="#000" stroke="#000" stroke-width="0.28">2,05</text>
<rect x="778" y="132" width="4" height="1" fill="#8e9ea8" shape-rendering="crispEdges"/>
<text x="784" y="136.0" font-weight="bold" font-size="11.4px" fill="#000" stroke="#000" stroke-width="0.28">2</text>
<rect x="778" y="151" width="4" height="1" fill="#8e9ea8" shape-rendering="crispEdges"/>
<text x="784" y="155.0" fill="#000" stroke="#000" stroke-width="0.28">1,95</text>
<rect x="778" y="169" width="4" height="1" fill="#8e9ea8" shape-rendering="crispEdges"/>
<text x="784" y="173.0" fill="#000" stroke="#000" stroke-width="0.28">1,9</text>
<rect x="778" y="187" width="4" height="1" fill="#8e9ea8" shape-rendering="crispEdges"/>
<text x="784" y="191.0" fill="#000" stroke="#000" stroke-width="0.28">1,85</text>
<rect x="778" y="206" width="4" height="1" fill="#8e9ea8" shape-rendering="crispEdges"/>
<text x="784" y="210.0" fill="#000" stroke="#000" stroke-width="0.28">1,8</text>
<rect x="778" y="224" width="4" height="1" fill="#8e9ea8" shape-rendering="crispEdges"/>
<text x="784" y="228.0" fill="#000" stroke="#000" stroke-width="0.28">1,75</text>
<rect x="778" y="242" width="4" height="1" fill="#8e9ea8" shape-rendering="crispEdges"/>
<text x="784" y="246.0" fill="#000" stroke="#000" stroke-width="0.28">1,7</text>
<rect x="778" y="261" width="4" height="1" fill="#8e9ea8" shape-rendering="crispEdges"/>
<text x="784" y="265.0" fill="#000" stroke="#000" stroke-width="0.28">1,65</text>
<rect x="778" y="279" width="4" height="1" fill="#8e9ea8" shape-rendering="crispEdges"/>
<text x="784" y="283.0" fill="#000" stroke="#000" stroke-width="0.28">1,6</text>
<rect x="778" y="297" width="4" height="1" fill="#8e9ea8" shape-rendering="crispEdges"/>
<text x="784" y="301.0" fill="#000" stroke="#000" stroke-width="0.28">1,55</text>
<rect x="778" y="316" width="4" height="1" fill="#8e9ea8" shape-rendering="crispEdges"/>
<text x="784" y="320.0" font-weight="bold" font-size="11.4px" fill="#000" stroke="#000" stroke-width="0.28">1,5</text>
<rect x="778" y="334" width="4" height="1" fill="#8e9ea8" shape-rendering="crispEdges"/>
<text x="784" y="338.0" fill="#000" stroke="#000" stroke-width="0.28">1,45</text>
<rect x="778" y="352" width="4" height="1" fill="#8e9ea8" shape-rendering="crispEdges"/>
<text x="784" y="356.0" fill="#000" stroke="#000" stroke-width="0.28">1,4</text>
<rect x="778" y="371" width="4" height="1" fill="#8e9ea8" shape-rendering="crispEdges"/>
<text x="784" y="375.0" fill="#000" stroke="#000" stroke-width="0.28">1,35</text>
<rect x="778" y="389" width="4" height="1" fill="#8e9ea8" shape-rendering="crispEdges"/>
<text x="784" y="393.0" fill="#000" stroke="#000" stroke-width="0.28">1,3</text>
<rect x="778" y="187" width="4" height="1" fill="#e84848" shape-rendering="crispEdges"/>
<rect x="782.5" y="180.5" width="36" height="15" fill="url(#box)" stroke="#a4acb2" stroke-width="1"/>
<text x="785.2" y="191.8" fill="#e06a6a">1,8470</text>
<rect x="778" y="225" width="4" height="1" fill="#2222e6" shape-rendering="crispEdges"/>
<rect x="782.5" y="217.5" width="36" height="15" fill="url(#box)" stroke="#a4acb2" stroke-width="1"/>
<text x="785.2" y="228.8" fill="#2222e6">1,7481</text>
<rect x="778" y="237" width="4" height="1" fill="#c8c800" shape-rendering="crispEdges"/>
<rect x="782.5" y="229.5" width="36" height="15" fill="url(#box)" stroke="#a4acb2" stroke-width="1"/>
<text x="785.2" y="240.8" fill="#c8c800">1,7149</text>
<rect x="778" y="245" width="4" height="1" fill="#ff22cc" shape-rendering="crispEdges"/>
<rect x="782.5" y="238.5" width="36" height="15" fill="url(#box)" stroke="#a4acb2" stroke-width="1"/>
<text x="785.2" y="249.8" fill="#ff22cc">1,6892</text>
<rect x="778" y="261" width="4" height="1" fill="#1466ff" shape-rendering="crispEdges"/>
<rect x="782.5" y="254.5" width="36" height="15" fill="url(#box)" stroke="#a4acb2" stroke-width="1"/>
<text x="785.2" y="265.8" fill="#1466ff">1,6472</text>
<rect x="778" y="220" width="4" height="2" fill="#000" shape-rendering="crispEdges"/>
<rect x="782.5" y="207.5" width="29" height="14" fill="url(#gold)" stroke="#c9a020" stroke-width="1"/>
<text x="785.3" y="218.6" fill="#000" stroke="#000" stroke-width="0.28">1,762</text>
<rect x="778" y="408" width="4" height="1" fill="#8e9ea8" shape-rendering="crispEdges"/>
<text x="784" y="412" fill="#000" stroke="#000" stroke-width="0.28">3.000k</text>
<rect x="778" y="430" width="4" height="1" fill="#8e9ea8" shape-rendering="crispEdges"/>
<text x="784" y="434" fill="#000" stroke="#000" stroke-width="0.28">2.000k</text>
<rect x="778" y="452" width="4" height="1" fill="#8e9ea8" shape-rendering="crispEdges"/>
<text x="784" y="456" fill="#000" stroke="#000" stroke-width="0.28">1.000k</text>
<rect x="778" y="468" width="4" height="1" fill="#000" shape-rendering="crispEdges"/>
<rect x="782.5" y="457.5" width="42" height="15" fill="url(#box)" stroke="#a4acb2" stroke-width="1"/>
<text x="785.2" y="468.8" fill="#000" stroke="#000" stroke-width="0.28">222.334</text>
<rect x="778" y="466" width="4" height="1" fill="#e06a6a" shape-rendering="crispEdges"/>
<rect x="782.5" y="450.5" width="42" height="15" fill="url(#box)" stroke="#a4acb2" stroke-width="1"/>
<text x="785.2" y="461.8" fill="#e06a6a">329.546</text>
<rect x="778" y="480" width="4" height="1" fill="#8e9ea8" shape-rendering="crispEdges"/>
<text x="784" y="486.3" fill="#000" font-weight="bold" font-size="11.4px" stroke="#000" stroke-width="0.28">100</text>
<rect x="778" y="526" width="4" height="1" fill="#8e9ea8" shape-rendering="crispEdges"/>
<text x="784.2" y="530" fill="#000" font-weight="bold" font-size="11.4px" stroke="#000" stroke-width="0.28">0</text>
<rect x="778" y="496" width="4" height="1" fill="#e06a6a" shape-rendering="crispEdges"/>
<rect x="782.5" y="494.5" width="35" height="15" fill="url(#box)" stroke="#a4acb2" stroke-width="1"/>
<text x="785.2" y="505.8" fill="#e06a6a">65,925</text>
<rect x="778" y="494" width="4" height="2" fill="#000" shape-rendering="crispEdges"/>
<rect x="782.5" y="479.5" width="35" height="15" fill="url(#box)" stroke="#a4acb2" stroke-width="1"/>
<text x="785.2" y="490.8" fill="#000" stroke="#000" stroke-width="0.28">67,812</text>
<rect x="778" y="578" width="4" height="1" fill="#8e9ea8" shape-rendering="crispEdges"/>
<text x="784" y="582" fill="#000" stroke="#000" stroke-width="0.28">-0,1</text>
<rect x="778" y="552" width="4" height="1" fill="#5ad05a" shape-rendering="crispEdges"/>
<rect x="782.5" y="539.5" width="36" height="15" fill="url(#box)" stroke="#a4acb2" stroke-width="1"/>
<text x="785.2" y="550.8" fill="#8ad23c">0,0221</text>
<rect x="778" y="557" width="4" height="1" fill="#2d2de0" shape-rendering="crispEdges"/>
<rect x="782.5" y="549.5" width="41" height="15" fill="url(#box)" stroke="#a4acb2" stroke-width="1"/>
<text x="785.2" y="560.8" fill="#2d2de0">-0,0009</text>
<rect x="778" y="562" width="4" height="1" fill="#e06a6a" shape-rendering="crispEdges"/>
<rect x="782.5" y="559.5" width="41" height="15" fill="url(#box)" stroke="#a4acb2" stroke-width="1"/>
<text x="785.2" y="570.8" fill="#e06a6a">-0,0230</text>
<rect x="19" y="600" width="1" height="4" fill="#8e9ea8"/>
<text x="19.5" y="616" text-anchor="middle" fill="#000" font-size="10.2px" stroke="#000" stroke-width="0.28">09</text>
<rect x="45" y="600" width="1" height="4" fill="#8e9ea8"/>
<text x="45.5" y="616" text-anchor="middle" fill="#000" font-size="10.2px" stroke="#000" stroke-width="0.28">13</text>
<rect x="72" y="600" width="1" height="4" fill="#8e9ea8"/>
<text x="72.5" y="616" text-anchor="middle" fill="#000" font-size="10.2px" stroke="#000" stroke-width="0.28">19</text>
<rect x="99" y="600" width="1" height="4" fill="#8e9ea8"/>
<text x="99.5" y="616" text-anchor="middle" fill="#000" font-size="10.2px" stroke="#000" stroke-width="0.28">25</text>
<rect x="132" y="600" width="1" height="4" fill="#8e9ea8"/>
<text x="132.5" y="616" text-anchor="middle" fill="#000" font-weight="bold" font-size="12px" stroke="#000" stroke-width="0.28">jun</text>
<rect x="153" y="600" width="1" height="4" fill="#8e9ea8"/>
<text x="153.5" y="616" text-anchor="middle" fill="#000" font-size="10.2px" stroke="#000" stroke-width="0.28">06</text>
<rect x="179" y="600" width="1" height="4" fill="#8e9ea8"/>
<text x="179.5" y="616" text-anchor="middle" fill="#000" font-size="10.2px" stroke="#000" stroke-width="0.28">10</text>
<rect x="206" y="600" width="1" height="4" fill="#8e9ea8"/>
<text x="206.5" y="616" text-anchor="middle" fill="#000" font-size="10.2px" stroke="#000" stroke-width="0.28">16</text>
<rect x="233" y="600" width="1" height="4" fill="#8e9ea8"/>
<text x="233.5" y="616" text-anchor="middle" fill="#000" font-size="10.2px" stroke="#000" stroke-width="0.28">22</text>
<rect x="260" y="600" width="1" height="4" fill="#8e9ea8"/>
<text x="260.5" y="616" text-anchor="middle" fill="#000" font-size="10.2px" stroke="#000" stroke-width="0.28">28</text>
<rect x="280" y="600" width="1" height="4" fill="#8e9ea8"/>
<text x="280.5" y="616" text-anchor="middle" fill="#000" font-weight="bold" font-size="12px" stroke="#000" stroke-width="0.28">jul</text>
<rect x="313" y="600" width="1" height="4" fill="#8e9ea8"/>
<text x="313.5" y="616" text-anchor="middle" fill="#000" font-size="10.2px" stroke="#000" stroke-width="0.28">08</text>
<rect x="340" y="600" width="1" height="4" fill="#8e9ea8"/>
<text x="340.5" y="616" text-anchor="middle" fill="#000" font-size="10.2px" stroke="#000" stroke-width="0.28">14</text>
<rect x="367" y="600" width="1" height="4" fill="#8e9ea8"/>
<text x="367.5" y="616" text-anchor="middle" fill="#000" font-size="10.2px" stroke="#000" stroke-width="0.28">20</text>
<rect x="393" y="600" width="1" height="4" fill="#8e9ea8"/>
<text x="393.5" y="616" text-anchor="middle" fill="#000" font-size="10.2px" stroke="#000" stroke-width="0.28">26</text>
<rect x="420" y="600" width="1" height="4" fill="#8e9ea8"/>
<text x="420.5" y="616" text-anchor="middle" fill="#000" font-weight="bold" font-size="12px" stroke="#000" stroke-width="0.28">ago</text>
<rect x="447" y="600" width="1" height="4" fill="#8e9ea8"/>
<text x="447.5" y="616" text-anchor="middle" fill="#000" font-size="10.2px" stroke="#000" stroke-width="0.28">05</text>
<rect x="474" y="600" width="1" height="4" fill="#8e9ea8"/>
<text x="474.5" y="616" text-anchor="middle" fill="#000" font-size="10.2px" stroke="#000" stroke-width="0.28">11</text>
<rect x="500" y="600" width="1" height="4" fill="#8e9ea8"/>
<text x="500.5" y="616" text-anchor="middle" fill="#000" font-size="10.2px" stroke="#000" stroke-width="0.28">17</text>
<rect x="527" y="600" width="1" height="4" fill="#8e9ea8"/>
<text x="527.5" y="616" text-anchor="middle" fill="#000" font-size="10.2px" stroke="#000" stroke-width="0.28">23</text>
<rect x="554" y="600" width="1" height="4" fill="#8e9ea8"/>
<text x="554.5" y="616" text-anchor="middle" fill="#000" font-size="10.2px" stroke="#000" stroke-width="0.28">29</text>
<rect x="574" y="600" width="1" height="4" fill="#8e9ea8"/>
<text x="574.5" y="616" text-anchor="middle" fill="#000" font-weight="bold" font-size="12px" stroke="#000" stroke-width="0.28">sep</text>
<rect x="607" y="600" width="1" height="4" fill="#8e9ea8"/>
<text x="607.5" y="616" text-anchor="middle" fill="#000" font-size="10.2px" stroke="#000" stroke-width="0.28">08</text>
<rect x="634" y="600" width="1" height="4" fill="#8e9ea8"/>
<text x="634.5" y="616" text-anchor="middle" fill="#000" font-size="10.2px" stroke="#000" stroke-width="0.28">14</text>
<rect x="661" y="600" width="1" height="4" fill="#8e9ea8"/>
<text x="661.5" y="616" text-anchor="middle" fill="#000" font-size="10.2px" stroke="#000" stroke-width="0.28">20</text>
<rect x="688" y="600" width="1" height="4" fill="#8e9ea8"/>
<text x="688.5" y="616" text-anchor="middle" fill="#000" font-size="10.2px" stroke="#000" stroke-width="0.28">26</text>
<rect x="721" y="600" width="1" height="4" fill="#8e9ea8"/>
<text x="721.5" y="616" text-anchor="middle" fill="#000" font-weight="bold" font-size="12px" stroke="#000" stroke-width="0.28">oct</text>
<rect x="741" y="600" width="1" height="4" fill="#8e9ea8"/>
<text x="741.5" y="616" text-anchor="middle" fill="#000" font-size="10.2px" stroke="#000" stroke-width="0.28">06</text>
<rect x="768" y="600" width="1" height="4" fill="#8e9ea8"/>
<text x="768.5" y="616" text-anchor="middle" fill="#000" font-size="10.2px" stroke="#000" stroke-width="0.28">12</text>
</svg>
</body></html>
